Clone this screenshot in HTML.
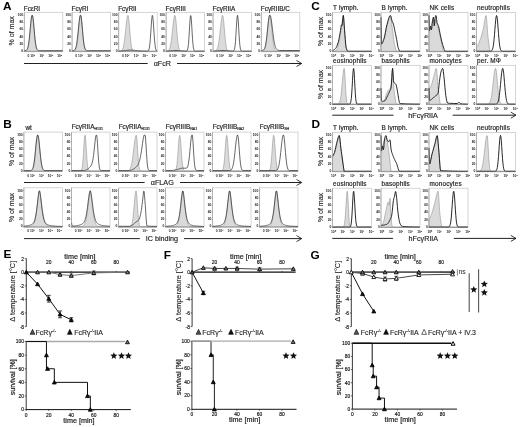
<!DOCTYPE html>
<html><head><meta charset="utf-8"><style>
html,body{margin:0;padding:0;background:#fff;}
svg{display:block;will-change:transform;}
text{font-family:"Liberation Sans", sans-serif;}
</style></head><body>
<svg width="520" height="427" viewBox="0 0 520 427" font-family='"Liberation Sans", sans-serif'>
<rect width="520" height="427" fill="#fff"/>
<text x="3.00" y="10.40" font-size="11.8" text-anchor="start" font-weight="bold" fill="#000" >A</text>
<rect x="24.30" y="12.30" width="38.50" height="39.30" fill="#fff" stroke="#c4c4c4" stroke-width="0.7"/>
<path d="M24.30,51.20 L24.3,51.2 25.1,51.2 25.5,51.1 25.9,51.1 26.3,51.0 26.7,50.7 27.1,50.4 27.5,49.7 27.9,48.7 28.3,47.3 28.7,45.2 29.1,42.5 29.5,39.1 29.9,35.0 30.3,30.6 30.7,26.0 31.1,21.8 31.5,18.3 31.9,16.1 32.3,15.3 32.7,16.2 33.1,18.7 33.5,22.5 33.9,27.0 34.3,31.8 34.7,36.4 35.1,40.5 35.5,43.8 35.9,46.3 36.3,48.2 36.7,49.4 37.1,50.2 37.5,50.6 37.9,50.9 38.3,51.1 38.7,51.1 39.1,51.2 62.7,51.2 L62.80,51.20 Z" fill="#dadada" stroke="#8c8c8c" stroke-width="0.55" stroke-linejoin="round"/>
<path d="M24.3,50.6 25.1,50.6 25.5,50.5 25.9,50.4 26.3,50.2 26.7,49.8 27.1,49.3 27.5,48.4 27.9,47.1 28.3,45.3 28.7,42.9 29.1,39.9 29.5,36.2 29.9,32.1 30.3,27.8 30.7,23.6 31.1,19.8 31.5,16.9 31.9,15.3 32.3,15.3 32.7,16.0 33.1,18.6 33.5,22.3 33.9,26.6 34.3,31.2 34.7,35.6 35.1,39.5 35.5,42.7 35.9,45.3 36.3,47.2 36.7,48.5 37.1,49.4 37.5,49.9 37.9,50.3 38.3,50.5 38.7,50.6 39.5,50.6 39.9,50.7 62.7,50.7" fill="none" stroke="#262626" stroke-width="0.7" stroke-linejoin="round"/>
<line x1="24.30" y1="12.30" x2="24.30" y2="51.60" stroke="#999" stroke-width="0.6" />
<line x1="23.80" y1="51.60" x2="62.80" y2="51.60" stroke="#888" stroke-width="0.6" />
<text x="23.10" y="51.90" font-size="3.3" text-anchor="end" font-weight="bold" fill="#222" >0</text>
<line x1="23.40" y1="51.20" x2="24.30" y2="51.20" stroke="#777" stroke-width="0.4" />
<text x="23.10" y="44.72" font-size="3.3" text-anchor="end" font-weight="bold" fill="#222" >20</text>
<line x1="23.40" y1="44.02" x2="24.30" y2="44.02" stroke="#777" stroke-width="0.4" />
<text x="23.10" y="37.54" font-size="3.3" text-anchor="end" font-weight="bold" fill="#222" >40</text>
<line x1="23.40" y1="36.84" x2="24.30" y2="36.84" stroke="#777" stroke-width="0.4" />
<text x="23.10" y="30.36" font-size="3.3" text-anchor="end" font-weight="bold" fill="#222" >60</text>
<line x1="23.40" y1="29.66" x2="24.30" y2="29.66" stroke="#777" stroke-width="0.4" />
<text x="23.10" y="23.18" font-size="3.3" text-anchor="end" font-weight="bold" fill="#222" >80</text>
<line x1="23.40" y1="22.48" x2="24.30" y2="22.48" stroke="#777" stroke-width="0.4" />
<text x="23.10" y="16.00" font-size="3.3" text-anchor="end" font-weight="bold" fill="#222" >100</text>
<line x1="23.40" y1="15.30" x2="24.30" y2="15.30" stroke="#777" stroke-width="0.4" />
<text x="31.30" y="56.80" font-size="3.3" text-anchor="middle" font-weight="bold" fill="#222" >0 10²</text>
<text x="41.80" y="56.80" font-size="3.3" text-anchor="middle" font-weight="bold" fill="#222" >10³</text>
<text x="50.80" y="56.80" font-size="3.3" text-anchor="middle" font-weight="bold" fill="#222" >10⁴</text>
<text x="59.80" y="56.80" font-size="3.3" text-anchor="middle" font-weight="bold" fill="#222" >10⁵</text>
<text x="23.80" y="10.70" font-size="6.4" text-anchor="start" font-weight="normal" fill="#222" stroke="#222" stroke-width="0.18" letter-spacing="0">FcεRI</text>
<rect x="72.10" y="12.30" width="38.50" height="39.30" fill="#fff" stroke="#c4c4c4" stroke-width="0.7"/>
<path d="M72.10,51.20 L72.1,51.2 73.3,51.2 73.7,51.1 74.1,51.0 74.5,50.9 74.9,50.6 75.3,50.1 75.7,49.4 76.1,48.3 76.5,46.8 76.9,44.7 77.3,42.0 77.7,38.7 78.1,34.8 78.5,30.5 78.9,26.2 79.3,22.1 79.7,18.8 80.1,16.4 80.5,15.3 80.9,15.8 81.3,17.9 81.7,21.4 82.1,25.8 82.5,30.6 82.9,35.3 83.3,39.5 83.7,43.1 84.1,45.8 84.5,47.8 84.9,49.1 85.3,50.0 85.7,50.6 86.1,50.9 86.5,51.0 86.9,51.1 87.3,51.2 110.5,51.2 L110.60,51.20 Z" fill="#dadada" stroke="#8c8c8c" stroke-width="0.55" stroke-linejoin="round"/>
<path d="M72.1,50.6 73.3,50.6 73.7,50.5 74.1,50.3 74.5,50.1 74.9,49.6 75.3,49.0 75.7,48.0 76.1,46.7 76.5,44.8 76.9,42.4 77.3,39.4 77.7,35.9 78.1,32.0 78.5,27.9 78.9,23.8 79.3,20.2 79.7,17.3 80.1,15.4 80.5,15.3 80.9,15.5 81.3,17.8 81.7,21.3 82.1,25.5 82.5,30.0 82.9,34.5 83.3,38.5 83.7,42.0 84.1,44.7 84.5,46.7 84.9,48.2 85.3,49.2 85.7,49.8 86.1,50.2 86.5,50.4 86.9,50.5 87.3,50.6 88.1,50.6 88.5,50.7 110.5,50.7" fill="none" stroke="#262626" stroke-width="0.7" stroke-linejoin="round"/>
<line x1="72.10" y1="12.30" x2="72.10" y2="51.60" stroke="#999" stroke-width="0.6" />
<line x1="71.60" y1="51.60" x2="110.60" y2="51.60" stroke="#888" stroke-width="0.6" />
<text x="70.90" y="51.90" font-size="3.3" text-anchor="end" font-weight="bold" fill="#222" >0</text>
<line x1="71.20" y1="51.20" x2="72.10" y2="51.20" stroke="#777" stroke-width="0.4" />
<text x="70.90" y="44.72" font-size="3.3" text-anchor="end" font-weight="bold" fill="#222" >20</text>
<line x1="71.20" y1="44.02" x2="72.10" y2="44.02" stroke="#777" stroke-width="0.4" />
<text x="70.90" y="37.54" font-size="3.3" text-anchor="end" font-weight="bold" fill="#222" >40</text>
<line x1="71.20" y1="36.84" x2="72.10" y2="36.84" stroke="#777" stroke-width="0.4" />
<text x="70.90" y="30.36" font-size="3.3" text-anchor="end" font-weight="bold" fill="#222" >60</text>
<line x1="71.20" y1="29.66" x2="72.10" y2="29.66" stroke="#777" stroke-width="0.4" />
<text x="70.90" y="23.18" font-size="3.3" text-anchor="end" font-weight="bold" fill="#222" >80</text>
<line x1="71.20" y1="22.48" x2="72.10" y2="22.48" stroke="#777" stroke-width="0.4" />
<text x="70.90" y="16.00" font-size="3.3" text-anchor="end" font-weight="bold" fill="#222" >100</text>
<line x1="71.20" y1="15.30" x2="72.10" y2="15.30" stroke="#777" stroke-width="0.4" />
<text x="79.10" y="56.80" font-size="3.3" text-anchor="middle" font-weight="bold" fill="#222" >0 10²</text>
<text x="89.60" y="56.80" font-size="3.3" text-anchor="middle" font-weight="bold" fill="#222" >10³</text>
<text x="98.60" y="56.80" font-size="3.3" text-anchor="middle" font-weight="bold" fill="#222" >10⁴</text>
<text x="107.60" y="56.80" font-size="3.3" text-anchor="middle" font-weight="bold" fill="#222" >10⁵</text>
<text x="71.60" y="10.70" font-size="6.4" text-anchor="start" font-weight="normal" fill="#222" stroke="#222" stroke-width="0.18" letter-spacing="0">FcγRI</text>
<rect x="118.70" y="12.30" width="38.50" height="39.30" fill="#fff" stroke="#c4c4c4" stroke-width="0.7"/>
<path d="M118.70,51.20 L118.7,51.2 119.9,51.2 120.3,51.1 120.7,51.0 121.1,50.9 121.5,50.7 121.9,50.3 122.3,49.8 122.7,49.0 123.1,47.9 123.5,46.3 123.9,44.3 124.3,41.8 124.7,38.7 125.1,35.2 125.5,31.4 125.9,27.5 126.3,23.6 126.7,20.3 127.1,17.6 127.5,15.9 127.9,15.3 128.3,16.2 128.7,18.7 129.1,22.5 129.5,27.0 129.9,31.8 130.3,36.4 130.7,40.5 131.1,43.8 131.5,46.3 131.9,48.2 132.3,49.4 132.7,50.2 133.1,50.6 133.5,50.9 133.9,51.1 134.3,51.1 134.7,51.2 157.1,51.2 L157.20,51.20 Z" fill="#dadada" stroke="#8c8c8c" stroke-width="0.55" stroke-linejoin="round"/>
<path d="M118.7,51.1 119.1,51.0 120.3,51.0 120.7,50.9 121.5,50.9 121.9,50.8 122.7,50.8 123.1,50.7 123.5,50.7 123.9,50.6 124.3,50.6 124.7,50.5 125.5,50.5 125.9,50.4 126.3,50.4 126.7,50.3 127.5,50.3 127.9,50.2 129.1,50.2 129.5,50.1 131.9,50.1 132.3,50.2 133.5,50.2 133.9,50.3 134.7,50.3 135.1,50.4 135.5,50.4 135.9,50.5 136.7,50.5 137.1,50.6 137.5,50.6 137.9,50.7 138.3,50.7 138.7,50.8 139.5,50.8 139.9,50.9 140.7,50.9 141.1,51.0 142.3,51.0 142.7,51.1 145.5,51.1 145.9,51.2 146.7,51.2 147.1,51.1 147.5,51.1 147.9,51.0 148.3,50.7 148.7,50.1 149.1,49.0 149.5,47.0 149.9,43.9 150.3,39.5 150.7,34.0 151.1,27.9 151.5,22.0 151.9,17.5 152.3,15.4 152.7,16.1 153.1,19.5 153.5,24.8 153.9,31.0 154.3,36.9 154.7,41.9 155.1,45.6 155.5,48.1 155.9,49.6 156.3,50.5 156.7,50.9 157.1,51.1" fill="none" stroke="#262626" stroke-width="0.7" stroke-linejoin="round"/>
<line x1="118.70" y1="12.30" x2="118.70" y2="51.60" stroke="#999" stroke-width="0.6" />
<line x1="118.20" y1="51.60" x2="157.20" y2="51.60" stroke="#888" stroke-width="0.6" />
<text x="117.50" y="51.90" font-size="3.3" text-anchor="end" font-weight="bold" fill="#222" >0</text>
<line x1="117.80" y1="51.20" x2="118.70" y2="51.20" stroke="#777" stroke-width="0.4" />
<text x="117.50" y="44.72" font-size="3.3" text-anchor="end" font-weight="bold" fill="#222" >20</text>
<line x1="117.80" y1="44.02" x2="118.70" y2="44.02" stroke="#777" stroke-width="0.4" />
<text x="117.50" y="37.54" font-size="3.3" text-anchor="end" font-weight="bold" fill="#222" >40</text>
<line x1="117.80" y1="36.84" x2="118.70" y2="36.84" stroke="#777" stroke-width="0.4" />
<text x="117.50" y="30.36" font-size="3.3" text-anchor="end" font-weight="bold" fill="#222" >60</text>
<line x1="117.80" y1="29.66" x2="118.70" y2="29.66" stroke="#777" stroke-width="0.4" />
<text x="117.50" y="23.18" font-size="3.3" text-anchor="end" font-weight="bold" fill="#222" >80</text>
<line x1="117.80" y1="22.48" x2="118.70" y2="22.48" stroke="#777" stroke-width="0.4" />
<text x="117.50" y="16.00" font-size="3.3" text-anchor="end" font-weight="bold" fill="#222" >100</text>
<line x1="117.80" y1="15.30" x2="118.70" y2="15.30" stroke="#777" stroke-width="0.4" />
<text x="125.70" y="56.80" font-size="3.3" text-anchor="middle" font-weight="bold" fill="#222" >0 10²</text>
<text x="136.20" y="56.80" font-size="3.3" text-anchor="middle" font-weight="bold" fill="#222" >10³</text>
<text x="145.20" y="56.80" font-size="3.3" text-anchor="middle" font-weight="bold" fill="#222" >10⁴</text>
<text x="154.20" y="56.80" font-size="3.3" text-anchor="middle" font-weight="bold" fill="#222" >10⁵</text>
<text x="118.20" y="10.70" font-size="6.4" text-anchor="start" font-weight="normal" fill="#222" stroke="#222" stroke-width="0.18" letter-spacing="0">FcγRII</text>
<rect x="166.10" y="12.30" width="38.50" height="39.30" fill="#fff" stroke="#c4c4c4" stroke-width="0.7"/>
<path d="M166.10,51.20 L166.1,51.2 166.5,51.2 166.9,51.1 167.3,51.0 167.7,50.9 168.1,50.7 168.5,50.5 168.9,50.0 169.3,49.3 169.7,48.4 170.1,47.1 170.5,45.4 170.9,43.3 171.3,40.7 171.7,37.6 172.1,34.1 172.5,30.4 172.9,26.6 173.3,23.0 173.7,19.9 174.1,17.4 174.5,15.8 174.9,15.3 175.3,16.2 175.7,18.7 176.1,22.5 176.5,27.0 176.9,31.8 177.3,36.4 177.7,40.5 178.1,43.8 178.5,46.3 178.9,48.2 179.3,49.4 179.7,50.2 180.1,50.6 180.5,50.9 180.9,51.1 181.3,51.1 181.7,51.2 204.5,51.2 L204.60,51.20 Z" fill="#dadada" stroke="#8c8c8c" stroke-width="0.55" stroke-linejoin="round"/>
<path d="M166.1,51.1 166.9,51.1 167.3,51.0 168.5,51.0 168.9,50.9 170.1,50.9 170.5,50.8 170.9,50.8 171.3,50.7 172.1,50.7 172.5,50.6 173.7,50.6 174.1,50.5 178.1,50.5 178.5,50.6 179.7,50.6 180.1,50.7 180.9,50.7 181.3,50.8 181.7,50.8 182.1,50.9 183.3,50.9 183.7,51.0 184.9,51.0 185.3,51.1 186.1,51.1 186.5,51.0 186.9,50.8 187.3,50.3 187.7,49.1 188.1,47.0 188.5,43.5 188.9,38.4 189.3,32.0 189.7,25.1 190.1,19.2 190.5,15.7 190.9,15.7 191.3,19.2 191.7,25.1 192.1,32.0 192.5,38.5 192.9,43.6 193.3,47.1 193.7,49.2 194.1,50.3 194.5,50.8 194.9,51.1 195.3,51.2 204.5,51.2" fill="none" stroke="#262626" stroke-width="0.7" stroke-linejoin="round"/>
<line x1="166.10" y1="12.30" x2="166.10" y2="51.60" stroke="#999" stroke-width="0.6" />
<line x1="165.60" y1="51.60" x2="204.60" y2="51.60" stroke="#888" stroke-width="0.6" />
<text x="164.90" y="51.90" font-size="3.3" text-anchor="end" font-weight="bold" fill="#222" >0</text>
<line x1="165.20" y1="51.20" x2="166.10" y2="51.20" stroke="#777" stroke-width="0.4" />
<text x="164.90" y="44.72" font-size="3.3" text-anchor="end" font-weight="bold" fill="#222" >20</text>
<line x1="165.20" y1="44.02" x2="166.10" y2="44.02" stroke="#777" stroke-width="0.4" />
<text x="164.90" y="37.54" font-size="3.3" text-anchor="end" font-weight="bold" fill="#222" >40</text>
<line x1="165.20" y1="36.84" x2="166.10" y2="36.84" stroke="#777" stroke-width="0.4" />
<text x="164.90" y="30.36" font-size="3.3" text-anchor="end" font-weight="bold" fill="#222" >60</text>
<line x1="165.20" y1="29.66" x2="166.10" y2="29.66" stroke="#777" stroke-width="0.4" />
<text x="164.90" y="23.18" font-size="3.3" text-anchor="end" font-weight="bold" fill="#222" >80</text>
<line x1="165.20" y1="22.48" x2="166.10" y2="22.48" stroke="#777" stroke-width="0.4" />
<text x="164.90" y="16.00" font-size="3.3" text-anchor="end" font-weight="bold" fill="#222" >100</text>
<line x1="165.20" y1="15.30" x2="166.10" y2="15.30" stroke="#777" stroke-width="0.4" />
<text x="173.10" y="56.80" font-size="3.3" text-anchor="middle" font-weight="bold" fill="#222" >0 10²</text>
<text x="183.60" y="56.80" font-size="3.3" text-anchor="middle" font-weight="bold" fill="#222" >10³</text>
<text x="192.60" y="56.80" font-size="3.3" text-anchor="middle" font-weight="bold" fill="#222" >10⁴</text>
<text x="201.60" y="56.80" font-size="3.3" text-anchor="middle" font-weight="bold" fill="#222" >10⁵</text>
<text x="165.60" y="10.70" font-size="6.4" text-anchor="start" font-weight="normal" fill="#222" stroke="#222" stroke-width="0.18" letter-spacing="0">FcγRIII</text>
<rect x="213.10" y="12.30" width="38.50" height="39.30" fill="#fff" stroke="#c4c4c4" stroke-width="0.7"/>
<path d="M213.10,51.20 L213.1,51.2 213.9,51.2 214.3,51.1 214.7,51.1 215.1,51.0 215.5,50.9 215.9,50.7 216.3,50.4 216.7,49.9 217.1,49.1 217.5,48.1 217.9,46.8 218.3,44.9 218.7,42.7 219.1,39.9 219.5,36.7 219.9,33.2 220.3,29.4 220.7,25.7 221.1,22.2 221.5,19.2 221.9,16.9 222.3,15.6 222.7,15.4 223.1,16.7 223.5,19.5 223.9,23.5 224.3,28.2 224.7,33.0 225.1,37.5 225.5,41.4 225.9,44.5 226.3,46.9 226.7,48.5 227.1,49.6 227.5,50.3 227.9,50.7 228.3,51.0 228.7,51.1 229.1,51.1 229.5,51.2 251.5,51.2 L251.60,51.20 Z" fill="#dadada" stroke="#8c8c8c" stroke-width="0.55" stroke-linejoin="round"/>
<path d="M213.1,51.1 213.9,51.1 214.3,51.0 215.5,51.0 215.9,50.9 217.1,50.9 217.5,50.8 217.9,50.8 218.3,50.7 219.1,50.7 219.5,50.6 220.7,50.6 221.1,50.5 225.1,50.5 225.5,50.6 226.7,50.6 227.1,50.7 227.9,50.7 228.3,50.8 228.7,50.8 229.1,50.9 230.3,50.9 230.7,51.0 231.9,51.0 232.3,51.1 232.7,51.1 233.1,51.0 233.5,50.9 233.9,50.6 234.3,49.8 234.7,48.2 235.1,45.5 235.5,41.2 235.9,35.3 236.3,28.5 236.7,21.9 237.1,17.1 237.5,15.3 237.9,17.1 238.3,21.9 238.7,28.5 239.1,35.4 239.5,41.2 239.9,45.5 240.3,48.3 240.7,49.8 241.1,50.6 241.5,51.0 241.9,51.1 242.3,51.2 251.5,51.2" fill="none" stroke="#262626" stroke-width="0.7" stroke-linejoin="round"/>
<line x1="213.10" y1="12.30" x2="213.10" y2="51.60" stroke="#999" stroke-width="0.6" />
<line x1="212.60" y1="51.60" x2="251.60" y2="51.60" stroke="#888" stroke-width="0.6" />
<text x="211.90" y="51.90" font-size="3.3" text-anchor="end" font-weight="bold" fill="#222" >0</text>
<line x1="212.20" y1="51.20" x2="213.10" y2="51.20" stroke="#777" stroke-width="0.4" />
<text x="211.90" y="44.72" font-size="3.3" text-anchor="end" font-weight="bold" fill="#222" >20</text>
<line x1="212.20" y1="44.02" x2="213.10" y2="44.02" stroke="#777" stroke-width="0.4" />
<text x="211.90" y="37.54" font-size="3.3" text-anchor="end" font-weight="bold" fill="#222" >40</text>
<line x1="212.20" y1="36.84" x2="213.10" y2="36.84" stroke="#777" stroke-width="0.4" />
<text x="211.90" y="30.36" font-size="3.3" text-anchor="end" font-weight="bold" fill="#222" >60</text>
<line x1="212.20" y1="29.66" x2="213.10" y2="29.66" stroke="#777" stroke-width="0.4" />
<text x="211.90" y="23.18" font-size="3.3" text-anchor="end" font-weight="bold" fill="#222" >80</text>
<line x1="212.20" y1="22.48" x2="213.10" y2="22.48" stroke="#777" stroke-width="0.4" />
<text x="211.90" y="16.00" font-size="3.3" text-anchor="end" font-weight="bold" fill="#222" >100</text>
<line x1="212.20" y1="15.30" x2="213.10" y2="15.30" stroke="#777" stroke-width="0.4" />
<text x="220.10" y="56.80" font-size="3.3" text-anchor="middle" font-weight="bold" fill="#222" >0 10²</text>
<text x="230.60" y="56.80" font-size="3.3" text-anchor="middle" font-weight="bold" fill="#222" >10³</text>
<text x="239.60" y="56.80" font-size="3.3" text-anchor="middle" font-weight="bold" fill="#222" >10⁴</text>
<text x="248.60" y="56.80" font-size="3.3" text-anchor="middle" font-weight="bold" fill="#222" >10⁵</text>
<text x="212.60" y="10.70" font-size="6.4" text-anchor="start" font-weight="normal" fill="#222" stroke="#222" stroke-width="0.18" letter-spacing="0">FcγRIIA</text>
<rect x="261.30" y="12.30" width="38.50" height="39.30" fill="#fff" stroke="#c4c4c4" stroke-width="0.7"/>
<path d="M261.30,51.20 L261.3,51.2 262.1,51.2 262.5,51.1 262.9,51.0 263.3,50.9 263.7,50.7 264.1,50.3 264.5,49.7 264.9,48.8 265.3,47.6 265.7,45.9 266.1,43.6 266.5,40.8 266.9,37.4 267.3,33.5 267.7,29.4 268.1,25.3 268.5,21.6 268.9,18.5 269.3,16.3 269.7,15.3 270.1,15.7 270.5,17.4 270.9,20.3 271.3,24.1 271.7,28.3 272.1,32.7 272.5,36.8 272.9,40.4 273.3,43.4 273.7,45.8 274.1,47.6 274.5,48.9 274.9,49.8 275.3,50.4 275.7,50.7 276.1,50.9 276.5,51.1 276.9,51.1 277.3,51.2 299.7,51.2 L299.80,51.20 Z" fill="#dadada" stroke="#8c8c8c" stroke-width="0.55" stroke-linejoin="round"/>
<path d="M261.3,50.5 261.7,50.4 262.1,50.4 262.5,50.3 262.9,50.2 263.3,50.0 263.7,49.7 264.1,49.2 264.5,48.5 264.9,47.5 265.3,46.1 265.7,44.2 266.1,41.8 266.5,38.8 266.9,35.4 267.3,31.7 267.7,27.7 268.1,23.8 268.5,20.3 268.9,17.5 269.3,15.5 269.7,15.3 270.1,15.3 270.5,15.9 270.9,17.7 271.3,20.1 271.7,23.0 272.1,26.2 272.5,29.5 272.9,32.8 273.3,36.0 273.7,38.8 274.1,41.3 274.5,43.5 274.9,45.2 275.3,46.7 275.7,47.7 276.1,48.6 276.5,49.2 276.9,49.6 277.3,49.9 277.7,50.1 278.1,50.3 278.5,50.3 278.9,50.4 279.3,50.4 279.7,50.5 299.7,50.5" fill="none" stroke="#262626" stroke-width="0.7" stroke-linejoin="round"/>
<line x1="261.30" y1="12.30" x2="261.30" y2="51.60" stroke="#999" stroke-width="0.6" />
<line x1="260.80" y1="51.60" x2="299.80" y2="51.60" stroke="#888" stroke-width="0.6" />
<text x="260.10" y="51.90" font-size="3.3" text-anchor="end" font-weight="bold" fill="#222" >0</text>
<line x1="260.40" y1="51.20" x2="261.30" y2="51.20" stroke="#777" stroke-width="0.4" />
<text x="260.10" y="44.72" font-size="3.3" text-anchor="end" font-weight="bold" fill="#222" >20</text>
<line x1="260.40" y1="44.02" x2="261.30" y2="44.02" stroke="#777" stroke-width="0.4" />
<text x="260.10" y="37.54" font-size="3.3" text-anchor="end" font-weight="bold" fill="#222" >40</text>
<line x1="260.40" y1="36.84" x2="261.30" y2="36.84" stroke="#777" stroke-width="0.4" />
<text x="260.10" y="30.36" font-size="3.3" text-anchor="end" font-weight="bold" fill="#222" >60</text>
<line x1="260.40" y1="29.66" x2="261.30" y2="29.66" stroke="#777" stroke-width="0.4" />
<text x="260.10" y="23.18" font-size="3.3" text-anchor="end" font-weight="bold" fill="#222" >80</text>
<line x1="260.40" y1="22.48" x2="261.30" y2="22.48" stroke="#777" stroke-width="0.4" />
<text x="260.10" y="16.00" font-size="3.3" text-anchor="end" font-weight="bold" fill="#222" >100</text>
<line x1="260.40" y1="15.30" x2="261.30" y2="15.30" stroke="#777" stroke-width="0.4" />
<text x="268.30" y="56.80" font-size="3.3" text-anchor="middle" font-weight="bold" fill="#222" >0 10²</text>
<text x="278.80" y="56.80" font-size="3.3" text-anchor="middle" font-weight="bold" fill="#222" >10³</text>
<text x="287.80" y="56.80" font-size="3.3" text-anchor="middle" font-weight="bold" fill="#222" >10⁴</text>
<text x="296.80" y="56.80" font-size="3.3" text-anchor="middle" font-weight="bold" fill="#222" >10⁵</text>
<text x="260.80" y="10.70" font-size="6.4" text-anchor="start" font-weight="normal" fill="#222" stroke="#222" stroke-width="0.18" letter-spacing="0">FcγRIIB/C</text>
<text x="0" y="0" font-size="7.0" text-anchor="middle" fill="#222" stroke="#222" stroke-width="0.12" transform="translate(13.80,30.80) rotate(-90)">% of max</text>
<line x1="24.00" y1="63.50" x2="147.70" y2="63.50" stroke="#222" stroke-width="1.0" />
<line x1="177.00" y1="63.50" x2="301.70" y2="63.50" stroke="#222" stroke-width="1.0" />
<path d="M296.50,60.50 L301.70,63.50 L296.50,66.50" fill="none" stroke="#222" stroke-width="0.9"/>
<text x="162.35" y="66.00" font-size="7.2" text-anchor="middle" font-weight="normal" fill="#222" stroke="#222" stroke-width="0.15">αFcR</text>
<text x="3.30" y="127.80" font-size="11.8" text-anchor="start" font-weight="bold" fill="#000" >B</text>
<rect x="23.90" y="132.10" width="38.50" height="39.30" fill="#fff" stroke="#c4c4c4" stroke-width="0.7"/>
<path d="M23.90,171.00 L23.9,171.0 30.3,171.0 30.7,170.9 31.1,170.8 31.5,170.7 31.9,170.5 32.3,170.1 32.7,169.4 33.1,168.5 33.5,167.0 33.9,165.1 34.3,162.5 34.7,159.3 35.1,155.6 35.5,151.4 35.9,147.1 36.3,142.9 36.7,139.3 37.1,136.7 37.5,135.3 37.9,135.3 38.3,136.7 38.7,139.3 39.1,142.9 39.5,147.1 39.9,151.4 40.3,155.6 40.7,159.3 41.1,162.5 41.5,165.1 41.9,167.0 42.3,168.5 42.7,169.4 43.1,170.1 43.5,170.5 43.9,170.7 44.3,170.8 44.7,170.9 45.1,171.0 62.3,171.0 L62.40,171.00 Z" fill="#dadada" stroke="#8c8c8c" stroke-width="0.55" stroke-linejoin="round"/>
<path d="M23.9,170.6 30.3,170.6 30.7,170.5 31.1,170.4 31.5,170.2 31.9,169.8 32.3,169.3 32.7,168.5 33.1,167.4 33.5,165.8 33.9,163.7 34.3,161.0 34.7,157.7 35.1,154.0 35.5,149.9 35.9,145.8 36.3,141.9 36.7,138.6 37.1,136.2 37.5,135.1 37.9,135.1 38.3,136.2 38.7,138.6 39.1,141.9 39.5,145.8 39.9,149.9 40.3,154.0 40.7,157.7 41.1,161.0 41.5,163.7 41.9,165.8 42.3,167.4 42.7,168.5 43.1,169.3 43.5,169.8 43.9,170.2 44.3,170.4 44.7,170.5 45.1,170.6 62.3,170.6" fill="none" stroke="#262626" stroke-width="0.7" stroke-linejoin="round"/>
<line x1="23.90" y1="132.10" x2="23.90" y2="171.40" stroke="#999" stroke-width="0.6" />
<line x1="23.40" y1="171.40" x2="62.40" y2="171.40" stroke="#888" stroke-width="0.6" />
<text x="22.70" y="171.70" font-size="3.3" text-anchor="end" font-weight="bold" fill="#222" >0</text>
<line x1="23.00" y1="171.00" x2="23.90" y2="171.00" stroke="#777" stroke-width="0.4" />
<text x="22.70" y="164.52" font-size="3.3" text-anchor="end" font-weight="bold" fill="#222" >20</text>
<line x1="23.00" y1="163.82" x2="23.90" y2="163.82" stroke="#777" stroke-width="0.4" />
<text x="22.70" y="157.34" font-size="3.3" text-anchor="end" font-weight="bold" fill="#222" >40</text>
<line x1="23.00" y1="156.64" x2="23.90" y2="156.64" stroke="#777" stroke-width="0.4" />
<text x="22.70" y="150.16" font-size="3.3" text-anchor="end" font-weight="bold" fill="#222" >60</text>
<line x1="23.00" y1="149.46" x2="23.90" y2="149.46" stroke="#777" stroke-width="0.4" />
<text x="22.70" y="142.98" font-size="3.3" text-anchor="end" font-weight="bold" fill="#222" >80</text>
<line x1="23.00" y1="142.28" x2="23.90" y2="142.28" stroke="#777" stroke-width="0.4" />
<text x="22.70" y="135.80" font-size="3.3" text-anchor="end" font-weight="bold" fill="#222" >100</text>
<line x1="23.00" y1="135.10" x2="23.90" y2="135.10" stroke="#777" stroke-width="0.4" />
<text x="30.90" y="176.60" font-size="3.3" text-anchor="middle" font-weight="bold" fill="#222" >0 10²</text>
<text x="41.40" y="176.60" font-size="3.3" text-anchor="middle" font-weight="bold" fill="#222" >10³</text>
<text x="50.40" y="176.60" font-size="3.3" text-anchor="middle" font-weight="bold" fill="#222" >10⁴</text>
<text x="59.40" y="176.60" font-size="3.3" text-anchor="middle" font-weight="bold" fill="#222" >10⁵</text>
<text x="25.40" y="129.50" font-size="6.4" text-anchor="start" font-weight="normal" fill="#222" stroke="#222" stroke-width="0.18" letter-spacing="0">wt</text>
<rect x="71.50" y="132.10" width="38.50" height="39.30" fill="#fff" stroke="#c4c4c4" stroke-width="0.7"/>
<path d="M71.50,171.00 L71.5,171.0 79.9,171.0 80.3,170.9 80.7,170.8 81.1,170.6 81.5,170.0 81.9,168.9 82.3,166.8 82.7,163.5 83.1,158.7 83.5,152.6 83.9,145.9 84.3,139.9 84.7,136.0 85.1,135.2 85.5,137.7 85.9,142.8 86.3,149.2 86.7,155.7 87.1,161.3 87.5,165.4 87.9,168.0 88.3,169.6 88.7,170.4 89.1,170.8 89.5,170.9 89.9,171.0 109.9,171.0 L110.00,171.00 Z" fill="#dadada" stroke="#8c8c8c" stroke-width="0.55" stroke-linejoin="round"/>
<path d="M71.5,170.6 83.5,170.6 83.9,170.5 84.3,170.5 84.7,170.4 85.1,170.3 85.5,170.2 85.9,170.1 86.3,169.9 86.7,169.7 87.1,169.5 87.5,169.2 87.9,168.9 88.3,168.6 88.7,168.3 89.1,167.9 89.5,167.5 89.9,167.1 90.3,166.7 90.7,166.2 91.1,165.6 91.5,164.8 91.9,163.8 92.3,162.4 92.7,160.7 93.1,158.5 93.5,155.7 93.9,152.5 94.3,148.8 94.7,145.0 95.1,141.2 95.5,138.0 95.9,135.7 96.3,135.1 96.7,135.1 97.1,138.2 97.5,143.8 97.9,150.5 98.3,156.8 98.7,162.1 99.1,165.8 99.5,168.1 99.9,169.5 100.3,170.1 100.7,170.4 101.1,170.6 109.9,170.6" fill="none" stroke="#262626" stroke-width="0.7" stroke-linejoin="round"/>
<line x1="71.50" y1="132.10" x2="71.50" y2="171.40" stroke="#999" stroke-width="0.6" />
<line x1="71.00" y1="171.40" x2="110.00" y2="171.40" stroke="#888" stroke-width="0.6" />
<text x="70.30" y="171.70" font-size="3.3" text-anchor="end" font-weight="bold" fill="#222" >0</text>
<line x1="70.60" y1="171.00" x2="71.50" y2="171.00" stroke="#777" stroke-width="0.4" />
<text x="70.30" y="164.52" font-size="3.3" text-anchor="end" font-weight="bold" fill="#222" >20</text>
<line x1="70.60" y1="163.82" x2="71.50" y2="163.82" stroke="#777" stroke-width="0.4" />
<text x="70.30" y="157.34" font-size="3.3" text-anchor="end" font-weight="bold" fill="#222" >40</text>
<line x1="70.60" y1="156.64" x2="71.50" y2="156.64" stroke="#777" stroke-width="0.4" />
<text x="70.30" y="150.16" font-size="3.3" text-anchor="end" font-weight="bold" fill="#222" >60</text>
<line x1="70.60" y1="149.46" x2="71.50" y2="149.46" stroke="#777" stroke-width="0.4" />
<text x="70.30" y="142.98" font-size="3.3" text-anchor="end" font-weight="bold" fill="#222" >80</text>
<line x1="70.60" y1="142.28" x2="71.50" y2="142.28" stroke="#777" stroke-width="0.4" />
<text x="70.30" y="135.80" font-size="3.3" text-anchor="end" font-weight="bold" fill="#222" >100</text>
<line x1="70.60" y1="135.10" x2="71.50" y2="135.10" stroke="#777" stroke-width="0.4" />
<text x="78.50" y="176.60" font-size="3.3" text-anchor="middle" font-weight="bold" fill="#222" >0 10²</text>
<text x="89.00" y="176.60" font-size="3.3" text-anchor="middle" font-weight="bold" fill="#222" >10³</text>
<text x="98.00" y="176.60" font-size="3.3" text-anchor="middle" font-weight="bold" fill="#222" >10⁴</text>
<text x="107.00" y="176.60" font-size="3.3" text-anchor="middle" font-weight="bold" fill="#222" >10⁵</text>
<text x="71.70" y="128.70" font-size="6.4" text-anchor="start" font-weight="normal" fill="#222" stroke="#222" stroke-width="0.18" letter-spacing="0">FcγRIIA<tspan font-size="3.6" dy="1.2">H131</tspan></text>
<rect x="118.50" y="132.10" width="38.50" height="39.30" fill="#fff" stroke="#c4c4c4" stroke-width="0.7"/>
<path d="M118.50,171.00 L118.5,171.0 126.5,171.0 126.9,170.9 127.3,170.9 127.7,170.8 128.1,170.8 128.5,170.6 128.9,170.4 129.3,170.0 129.7,169.6 130.1,168.9 130.5,168.0 130.9,166.8 131.3,165.4 131.7,163.5 132.1,161.3 132.5,158.7 132.9,155.7 133.3,152.6 133.7,149.2 134.1,145.9 134.5,142.8 134.9,139.9 135.3,137.7 135.7,136.0 136.1,135.2 136.5,135.5 136.9,138.7 137.3,144.3 137.7,150.9 138.1,157.2 138.5,162.4 138.9,166.1 139.3,168.5 139.7,169.8 140.1,170.5 140.5,170.8 140.9,170.9 141.3,171.0 156.9,171.0 L157.00,171.00 Z" fill="#dadada" stroke="#8c8c8c" stroke-width="0.55" stroke-linejoin="round"/>
<path d="M118.5,170.6 128.5,170.6 128.9,170.5 129.7,170.5 130.1,170.4 130.5,170.3 130.9,170.2 131.3,170.1 131.7,170.0 132.1,169.8 132.5,169.6 132.9,169.4 133.3,169.2 133.7,168.9 134.1,168.7 134.5,168.4 134.9,168.0 135.3,167.7 135.7,167.4 136.1,167.0 136.5,166.6 136.9,166.2 137.3,165.7 137.7,165.1 138.1,164.5 138.5,163.7 138.9,162.7 139.3,161.6 139.7,160.2 140.1,158.5 140.5,156.5 140.9,154.3 141.3,151.8 141.7,149.1 142.1,146.3 142.5,143.5 142.9,140.9 143.3,138.5 143.7,136.5 144.1,135.1 144.9,135.1 145.3,135.7 145.7,140.4 146.1,146.8 146.5,153.5 146.9,159.4 147.3,163.9 147.7,167.0 148.1,168.8 148.5,169.8 148.9,170.3 149.3,170.5 149.7,170.6 156.9,170.6" fill="none" stroke="#262626" stroke-width="0.7" stroke-linejoin="round"/>
<line x1="118.50" y1="132.10" x2="118.50" y2="171.40" stroke="#999" stroke-width="0.6" />
<line x1="118.00" y1="171.40" x2="157.00" y2="171.40" stroke="#888" stroke-width="0.6" />
<text x="117.30" y="171.70" font-size="3.3" text-anchor="end" font-weight="bold" fill="#222" >0</text>
<line x1="117.60" y1="171.00" x2="118.50" y2="171.00" stroke="#777" stroke-width="0.4" />
<text x="117.30" y="164.52" font-size="3.3" text-anchor="end" font-weight="bold" fill="#222" >20</text>
<line x1="117.60" y1="163.82" x2="118.50" y2="163.82" stroke="#777" stroke-width="0.4" />
<text x="117.30" y="157.34" font-size="3.3" text-anchor="end" font-weight="bold" fill="#222" >40</text>
<line x1="117.60" y1="156.64" x2="118.50" y2="156.64" stroke="#777" stroke-width="0.4" />
<text x="117.30" y="150.16" font-size="3.3" text-anchor="end" font-weight="bold" fill="#222" >60</text>
<line x1="117.60" y1="149.46" x2="118.50" y2="149.46" stroke="#777" stroke-width="0.4" />
<text x="117.30" y="142.98" font-size="3.3" text-anchor="end" font-weight="bold" fill="#222" >80</text>
<line x1="117.60" y1="142.28" x2="118.50" y2="142.28" stroke="#777" stroke-width="0.4" />
<text x="117.30" y="135.80" font-size="3.3" text-anchor="end" font-weight="bold" fill="#222" >100</text>
<line x1="117.60" y1="135.10" x2="118.50" y2="135.10" stroke="#777" stroke-width="0.4" />
<text x="125.50" y="176.60" font-size="3.3" text-anchor="middle" font-weight="bold" fill="#222" >0 10²</text>
<text x="136.00" y="176.60" font-size="3.3" text-anchor="middle" font-weight="bold" fill="#222" >10³</text>
<text x="145.00" y="176.60" font-size="3.3" text-anchor="middle" font-weight="bold" fill="#222" >10⁴</text>
<text x="154.00" y="176.60" font-size="3.3" text-anchor="middle" font-weight="bold" fill="#222" >10⁵</text>
<text x="118.70" y="128.70" font-size="6.4" text-anchor="start" font-weight="normal" fill="#222" stroke="#222" stroke-width="0.18" letter-spacing="0">FcγRIIA<tspan font-size="3.6" dy="1.2">R131</tspan></text>
<rect x="165.50" y="132.10" width="38.50" height="39.30" fill="#fff" stroke="#c4c4c4" stroke-width="0.7"/>
<path d="M165.50,171.00 L165.5,171.0 173.9,171.0 174.3,170.9 174.7,170.9 175.1,170.7 175.5,170.3 175.9,169.5 176.3,168.2 176.7,166.1 177.1,163.0 177.5,158.8 177.9,153.5 178.3,147.8 178.7,142.3 179.1,137.9 179.5,135.4 179.9,135.4 180.3,137.9 180.7,142.3 181.1,147.8 181.5,153.5 181.9,158.8 182.3,163.0 182.7,166.1 183.1,168.2 183.5,169.5 183.9,170.3 184.3,170.7 184.7,170.9 185.1,170.9 185.5,171.0 203.9,171.0 L204.00,171.00 Z" fill="#dadada" stroke="#8c8c8c" stroke-width="0.55" stroke-linejoin="round"/>
<path d="M165.5,170.6 170.3,170.6 170.7,170.5 171.9,170.5 172.3,170.4 173.1,170.4 173.5,170.3 173.9,170.2 174.3,170.2 174.7,170.1 175.1,170.0 175.5,169.9 175.9,169.8 176.3,169.7 176.7,169.6 177.1,169.5 177.5,169.4 177.9,169.3 178.3,169.2 178.7,169.1 179.1,168.9 179.5,168.8 179.9,168.7 180.3,168.6 180.7,168.5 181.1,168.4 181.5,168.3 181.9,168.3 182.3,168.2 182.7,168.2 183.1,168.1 183.9,168.1 184.3,168.2 186.3,168.2 186.7,168.0 187.1,167.6 187.5,166.9 187.9,165.8 188.3,164.2 188.7,161.9 189.1,159.0 189.5,155.3 189.9,151.2 190.3,146.7 190.7,142.4 191.1,138.6 191.5,135.8 191.9,135.1 192.3,135.1 192.7,137.9 193.1,143.5 193.5,150.2 193.9,156.6 194.3,161.8 194.7,165.6 195.1,168.0 195.5,169.3 195.9,170.0 196.3,170.4 196.7,170.5 197.1,170.6 203.9,170.6" fill="none" stroke="#262626" stroke-width="0.7" stroke-linejoin="round"/>
<line x1="165.50" y1="132.10" x2="165.50" y2="171.40" stroke="#999" stroke-width="0.6" />
<line x1="165.00" y1="171.40" x2="204.00" y2="171.40" stroke="#888" stroke-width="0.6" />
<text x="164.30" y="171.70" font-size="3.3" text-anchor="end" font-weight="bold" fill="#222" >0</text>
<line x1="164.60" y1="171.00" x2="165.50" y2="171.00" stroke="#777" stroke-width="0.4" />
<text x="164.30" y="164.52" font-size="3.3" text-anchor="end" font-weight="bold" fill="#222" >20</text>
<line x1="164.60" y1="163.82" x2="165.50" y2="163.82" stroke="#777" stroke-width="0.4" />
<text x="164.30" y="157.34" font-size="3.3" text-anchor="end" font-weight="bold" fill="#222" >40</text>
<line x1="164.60" y1="156.64" x2="165.50" y2="156.64" stroke="#777" stroke-width="0.4" />
<text x="164.30" y="150.16" font-size="3.3" text-anchor="end" font-weight="bold" fill="#222" >60</text>
<line x1="164.60" y1="149.46" x2="165.50" y2="149.46" stroke="#777" stroke-width="0.4" />
<text x="164.30" y="142.98" font-size="3.3" text-anchor="end" font-weight="bold" fill="#222" >80</text>
<line x1="164.60" y1="142.28" x2="165.50" y2="142.28" stroke="#777" stroke-width="0.4" />
<text x="164.30" y="135.80" font-size="3.3" text-anchor="end" font-weight="bold" fill="#222" >100</text>
<line x1="164.60" y1="135.10" x2="165.50" y2="135.10" stroke="#777" stroke-width="0.4" />
<text x="172.50" y="176.60" font-size="3.3" text-anchor="middle" font-weight="bold" fill="#222" >0 10²</text>
<text x="183.00" y="176.60" font-size="3.3" text-anchor="middle" font-weight="bold" fill="#222" >10³</text>
<text x="192.00" y="176.60" font-size="3.3" text-anchor="middle" font-weight="bold" fill="#222" >10⁴</text>
<text x="201.00" y="176.60" font-size="3.3" text-anchor="middle" font-weight="bold" fill="#222" >10⁵</text>
<text x="165.70" y="128.70" font-size="6.4" text-anchor="start" font-weight="normal" fill="#222" stroke="#222" stroke-width="0.18" letter-spacing="0">FcγRIIIB<tspan font-size="3.6" dy="1.2">NA1</tspan></text>
<rect x="212.50" y="132.10" width="38.50" height="39.30" fill="#fff" stroke="#c4c4c4" stroke-width="0.7"/>
<path d="M212.50,171.00 L212.5,171.0 220.9,171.0 221.3,170.9 221.7,170.9 222.1,170.7 222.5,170.3 222.9,169.5 223.3,168.2 223.7,166.1 224.1,163.0 224.5,158.8 224.9,153.5 225.3,147.8 225.7,142.3 226.1,137.9 226.5,135.4 226.9,135.4 227.3,137.9 227.7,142.3 228.1,147.8 228.5,153.5 228.9,158.8 229.3,163.0 229.7,166.1 230.1,168.2 230.5,169.5 230.9,170.3 231.3,170.7 231.7,170.9 232.1,170.9 232.5,171.0 250.9,171.0 L251.00,171.00 Z" fill="#dadada" stroke="#8c8c8c" stroke-width="0.55" stroke-linejoin="round"/>
<path d="M212.5,170.6 229.3,170.6 229.7,170.5 230.1,170.5 230.5,170.3 230.9,170.1 231.3,169.8 231.7,169.3 232.1,168.6 232.5,167.6 232.9,166.2 233.3,164.4 233.7,162.1 234.1,159.4 234.5,156.2 234.9,152.6 235.3,148.9 235.7,145.1 236.1,141.6 236.5,138.6 236.9,136.4 237.3,135.1 237.7,135.1 238.1,136.5 238.5,140.0 238.9,144.8 239.3,150.2 239.7,155.5 240.1,160.0 240.5,163.7 240.9,166.4 241.3,168.2 241.7,169.3 242.1,170.0 242.5,170.3 242.9,170.5 243.3,170.6 250.9,170.6" fill="none" stroke="#262626" stroke-width="0.7" stroke-linejoin="round"/>
<line x1="212.50" y1="132.10" x2="212.50" y2="171.40" stroke="#999" stroke-width="0.6" />
<line x1="212.00" y1="171.40" x2="251.00" y2="171.40" stroke="#888" stroke-width="0.6" />
<text x="211.30" y="171.70" font-size="3.3" text-anchor="end" font-weight="bold" fill="#222" >0</text>
<line x1="211.60" y1="171.00" x2="212.50" y2="171.00" stroke="#777" stroke-width="0.4" />
<text x="211.30" y="164.52" font-size="3.3" text-anchor="end" font-weight="bold" fill="#222" >20</text>
<line x1="211.60" y1="163.82" x2="212.50" y2="163.82" stroke="#777" stroke-width="0.4" />
<text x="211.30" y="157.34" font-size="3.3" text-anchor="end" font-weight="bold" fill="#222" >40</text>
<line x1="211.60" y1="156.64" x2="212.50" y2="156.64" stroke="#777" stroke-width="0.4" />
<text x="211.30" y="150.16" font-size="3.3" text-anchor="end" font-weight="bold" fill="#222" >60</text>
<line x1="211.60" y1="149.46" x2="212.50" y2="149.46" stroke="#777" stroke-width="0.4" />
<text x="211.30" y="142.98" font-size="3.3" text-anchor="end" font-weight="bold" fill="#222" >80</text>
<line x1="211.60" y1="142.28" x2="212.50" y2="142.28" stroke="#777" stroke-width="0.4" />
<text x="211.30" y="135.80" font-size="3.3" text-anchor="end" font-weight="bold" fill="#222" >100</text>
<line x1="211.60" y1="135.10" x2="212.50" y2="135.10" stroke="#777" stroke-width="0.4" />
<text x="219.50" y="176.60" font-size="3.3" text-anchor="middle" font-weight="bold" fill="#222" >0 10²</text>
<text x="230.00" y="176.60" font-size="3.3" text-anchor="middle" font-weight="bold" fill="#222" >10³</text>
<text x="239.00" y="176.60" font-size="3.3" text-anchor="middle" font-weight="bold" fill="#222" >10⁴</text>
<text x="248.00" y="176.60" font-size="3.3" text-anchor="middle" font-weight="bold" fill="#222" >10⁵</text>
<text x="212.70" y="128.70" font-size="6.4" text-anchor="start" font-weight="normal" fill="#222" stroke="#222" stroke-width="0.18" letter-spacing="0">FcγRIIIB<tspan font-size="3.6" dy="1.2">NA2</tspan></text>
<rect x="259.50" y="132.10" width="38.50" height="39.30" fill="#fff" stroke="#c4c4c4" stroke-width="0.7"/>
<path d="M259.50,171.00 L259.5,171.0 267.9,171.0 268.3,170.9 268.7,170.9 269.1,170.7 269.5,170.3 269.9,169.5 270.3,168.2 270.7,166.1 271.1,163.0 271.5,158.8 271.9,153.5 272.3,147.8 272.7,142.3 273.1,137.9 273.5,135.4 273.9,135.4 274.3,137.9 274.7,142.3 275.1,147.8 275.5,153.5 275.9,158.8 276.3,163.0 276.7,166.1 277.1,168.2 277.5,169.5 277.9,170.3 278.3,170.7 278.7,170.9 279.1,170.9 279.5,171.0 297.9,171.0 L298.00,171.00 Z" fill="#dadada" stroke="#8c8c8c" stroke-width="0.55" stroke-linejoin="round"/>
<path d="M259.5,170.6 275.1,170.6 275.5,170.5 275.9,170.5 276.3,170.3 276.7,170.1 277.1,169.8 277.5,169.3 277.9,168.6 278.3,167.6 278.7,166.2 279.1,164.4 279.5,162.1 279.9,159.4 280.3,156.2 280.7,152.6 281.1,148.9 281.5,145.1 281.9,141.6 282.3,138.6 282.7,136.4 283.1,135.1 283.5,135.1 283.9,136.1 284.3,139.0 284.7,143.0 285.1,147.7 285.5,152.5 285.9,157.0 286.3,160.8 286.7,164.0 287.1,166.3 287.5,168.0 287.9,169.1 288.3,169.8 288.7,170.2 289.1,170.4 289.5,170.5 289.9,170.6 297.9,170.6" fill="none" stroke="#262626" stroke-width="0.7" stroke-linejoin="round"/>
<line x1="259.50" y1="132.10" x2="259.50" y2="171.40" stroke="#999" stroke-width="0.6" />
<line x1="259.00" y1="171.40" x2="298.00" y2="171.40" stroke="#888" stroke-width="0.6" />
<text x="258.30" y="171.70" font-size="3.3" text-anchor="end" font-weight="bold" fill="#222" >0</text>
<line x1="258.60" y1="171.00" x2="259.50" y2="171.00" stroke="#777" stroke-width="0.4" />
<text x="258.30" y="164.52" font-size="3.3" text-anchor="end" font-weight="bold" fill="#222" >20</text>
<line x1="258.60" y1="163.82" x2="259.50" y2="163.82" stroke="#777" stroke-width="0.4" />
<text x="258.30" y="157.34" font-size="3.3" text-anchor="end" font-weight="bold" fill="#222" >40</text>
<line x1="258.60" y1="156.64" x2="259.50" y2="156.64" stroke="#777" stroke-width="0.4" />
<text x="258.30" y="150.16" font-size="3.3" text-anchor="end" font-weight="bold" fill="#222" >60</text>
<line x1="258.60" y1="149.46" x2="259.50" y2="149.46" stroke="#777" stroke-width="0.4" />
<text x="258.30" y="142.98" font-size="3.3" text-anchor="end" font-weight="bold" fill="#222" >80</text>
<line x1="258.60" y1="142.28" x2="259.50" y2="142.28" stroke="#777" stroke-width="0.4" />
<text x="258.30" y="135.80" font-size="3.3" text-anchor="end" font-weight="bold" fill="#222" >100</text>
<line x1="258.60" y1="135.10" x2="259.50" y2="135.10" stroke="#777" stroke-width="0.4" />
<text x="266.50" y="176.60" font-size="3.3" text-anchor="middle" font-weight="bold" fill="#222" >0 10²</text>
<text x="277.00" y="176.60" font-size="3.3" text-anchor="middle" font-weight="bold" fill="#222" >10³</text>
<text x="286.00" y="176.60" font-size="3.3" text-anchor="middle" font-weight="bold" fill="#222" >10⁴</text>
<text x="295.00" y="176.60" font-size="3.3" text-anchor="middle" font-weight="bold" fill="#222" >10⁵</text>
<text x="259.70" y="128.70" font-size="6.4" text-anchor="start" font-weight="normal" fill="#222" stroke="#222" stroke-width="0.18" letter-spacing="0">FcγRIIIB<tspan font-size="3.6" dy="1.2">SH</tspan></text>
<rect x="23.90" y="187.80" width="38.50" height="39.30" fill="#fff" stroke="#c4c4c4" stroke-width="0.7"/>
<path d="M23.90,226.70 L23.9,226.7 28.7,226.7 29.1,226.6 29.9,226.6 30.3,226.5 30.7,226.4 31.1,226.3 31.5,226.1 31.9,225.9 32.3,225.6 32.7,225.2 33.1,224.7 33.5,224.1 33.9,223.2 34.3,222.2 34.7,220.9 35.1,219.3 35.5,217.4 35.9,215.1 36.3,212.6 36.7,209.7 37.1,206.6 37.5,203.3 37.9,199.9 38.3,196.6 38.7,193.8 39.1,191.6 39.5,190.9 39.9,192.3 40.3,194.6 40.7,197.3 41.1,200.3 41.5,203.4 41.9,206.4 42.3,209.3 42.7,212.0 43.1,214.4 43.5,216.5 43.9,218.4 44.3,220.0 44.7,221.3 45.1,222.5 45.5,223.4 45.9,224.1 46.3,224.7 46.7,225.2 47.1,225.6 47.5,225.9 47.9,226.1 48.3,226.2 48.7,226.4 49.1,226.5 49.5,226.5 49.9,226.6 50.7,226.6 51.1,226.7 62.3,226.7 L62.40,226.70 Z" fill="#dadada" stroke="#8c8c8c" stroke-width="0.55" stroke-linejoin="round"/>
<path d="M23.9,226.1 24.3,226.1 24.7,226.0 25.5,226.0 25.9,225.9 26.3,225.9 26.7,225.8 27.1,225.8 27.5,225.7 27.9,225.7 28.3,225.6 28.7,225.5 29.1,225.4 29.5,225.3 29.9,225.2 30.3,225.1 30.7,224.9 31.1,224.8 31.5,224.6 31.9,224.3 32.3,224.1 32.7,223.7 33.1,223.3 33.5,222.8 33.9,222.1 34.3,221.3 34.7,220.2 35.1,218.8 35.5,217.1 35.9,215.0 36.3,212.5 36.7,209.6 37.1,206.3 37.5,202.8 37.9,199.2 38.3,195.8 38.7,193.0 39.1,191.2 39.5,190.8 39.9,191.9 40.3,194.3 40.7,197.4 41.1,201.0 41.5,204.6 41.9,208.0 42.3,211.1 42.7,213.8 43.1,216.1 43.5,218.0 43.9,219.5 44.3,220.8 44.7,221.7 45.1,222.5 45.5,223.1 45.9,223.5 46.3,223.9 46.7,224.2 47.1,224.5 47.5,224.7 47.9,224.8 48.3,225.0 48.7,225.1 49.1,225.3 49.5,225.4 49.9,225.5 50.3,225.5 50.7,225.6 51.1,225.7 51.5,225.7 51.9,225.8 52.3,225.9 52.7,225.9 53.1,226.0 53.9,226.0 54.3,226.1 55.1,226.1 55.5,226.2 57.1,226.2 57.5,226.3 59.5,226.3 59.9,226.4 62.3,226.4" fill="none" stroke="#262626" stroke-width="0.7" stroke-linejoin="round"/>
<line x1="23.90" y1="187.80" x2="23.90" y2="227.10" stroke="#999" stroke-width="0.6" />
<line x1="23.40" y1="227.10" x2="62.40" y2="227.10" stroke="#888" stroke-width="0.6" />
<text x="22.70" y="227.40" font-size="3.3" text-anchor="end" font-weight="bold" fill="#222" >0</text>
<line x1="23.00" y1="226.70" x2="23.90" y2="226.70" stroke="#777" stroke-width="0.4" />
<text x="22.70" y="220.22" font-size="3.3" text-anchor="end" font-weight="bold" fill="#222" >20</text>
<line x1="23.00" y1="219.52" x2="23.90" y2="219.52" stroke="#777" stroke-width="0.4" />
<text x="22.70" y="213.04" font-size="3.3" text-anchor="end" font-weight="bold" fill="#222" >40</text>
<line x1="23.00" y1="212.34" x2="23.90" y2="212.34" stroke="#777" stroke-width="0.4" />
<text x="22.70" y="205.86" font-size="3.3" text-anchor="end" font-weight="bold" fill="#222" >60</text>
<line x1="23.00" y1="205.16" x2="23.90" y2="205.16" stroke="#777" stroke-width="0.4" />
<text x="22.70" y="198.68" font-size="3.3" text-anchor="end" font-weight="bold" fill="#222" >80</text>
<line x1="23.00" y1="197.98" x2="23.90" y2="197.98" stroke="#777" stroke-width="0.4" />
<text x="22.70" y="191.50" font-size="3.3" text-anchor="end" font-weight="bold" fill="#222" >100</text>
<line x1="23.00" y1="190.80" x2="23.90" y2="190.80" stroke="#777" stroke-width="0.4" />
<text x="30.90" y="232.30" font-size="3.3" text-anchor="middle" font-weight="bold" fill="#222" >0 10²</text>
<text x="41.40" y="232.30" font-size="3.3" text-anchor="middle" font-weight="bold" fill="#222" >10³</text>
<text x="50.40" y="232.30" font-size="3.3" text-anchor="middle" font-weight="bold" fill="#222" >10⁴</text>
<text x="59.40" y="232.30" font-size="3.3" text-anchor="middle" font-weight="bold" fill="#222" >10⁵</text>
<rect x="71.50" y="187.80" width="38.50" height="39.30" fill="#fff" stroke="#c4c4c4" stroke-width="0.7"/>
<path d="M71.50,226.70 L71.5,226.7 79.9,226.7 80.3,226.6 81.1,226.6 81.5,226.5 81.9,226.4 82.3,226.3 82.7,226.1 83.1,225.9 83.5,225.6 83.9,225.1 84.3,224.6 84.7,223.8 85.1,222.9 85.5,221.7 85.9,220.2 86.3,218.3 86.7,216.1 87.1,213.6 87.5,210.7 87.9,207.5 88.3,204.1 88.7,200.5 89.1,197.1 89.5,194.0 89.9,191.7 90.3,190.9 90.7,192.7 91.1,195.5 91.5,198.8 91.9,202.3 92.3,205.8 92.7,209.1 93.1,212.2 93.5,214.9 93.9,217.3 94.3,219.3 94.7,220.9 95.1,222.3 95.5,223.4 95.9,224.2 96.3,224.9 96.7,225.4 97.1,225.7 97.5,226.0 97.9,226.2 98.3,226.4 98.7,226.5 99.1,226.5 99.5,226.6 99.9,226.6 100.3,226.7 109.9,226.7 L110.00,226.70 Z" fill="#dadada" stroke="#8c8c8c" stroke-width="0.55" stroke-linejoin="round"/>
<path d="M71.5,222.6 71.9,224.8 72.3,225.6 72.7,225.9 73.1,226.0 74.3,226.0 74.7,225.9 75.1,225.9 75.5,225.8 75.9,225.8 76.3,225.7 76.7,225.7 77.1,225.6 77.5,225.6 77.9,225.5 78.3,225.4 78.7,225.3 79.1,225.2 79.5,225.1 79.9,225.0 80.3,224.9 80.7,224.7 81.1,224.6 81.5,224.4 81.9,224.2 82.3,223.9 82.7,223.6 83.1,223.3 83.5,222.8 83.9,222.3 84.3,221.6 84.7,220.7 85.1,219.7 85.5,218.4 85.9,216.8 86.3,214.9 86.7,212.6 87.1,210.0 87.5,207.2 87.9,204.1 88.3,200.8 88.7,197.7 89.1,194.8 89.5,192.5 89.9,191.1 90.3,190.8 90.7,191.7 91.1,193.6 91.5,196.2 91.9,199.2 92.3,202.5 92.7,205.6 93.1,208.6 93.5,211.4 93.9,213.8 94.3,215.9 94.7,217.6 95.1,219.0 95.5,220.2 95.9,221.2 96.3,221.9 96.7,222.6 97.1,223.0 97.5,223.4 97.9,223.8 98.3,224.1 98.7,224.3 99.1,224.5 99.5,224.7 99.9,224.8 100.3,225.0 100.7,225.1 101.1,225.2 101.5,225.3 101.9,225.4 102.3,225.5 102.7,225.5 103.1,225.6 103.5,225.7 103.9,225.7 104.3,225.8 104.7,225.8 105.1,225.9 105.9,225.9 106.3,226.0 107.1,226.0 107.5,226.1 108.7,226.1 109.1,226.2 109.9,226.2" fill="none" stroke="#262626" stroke-width="0.7" stroke-linejoin="round"/>
<line x1="71.50" y1="187.80" x2="71.50" y2="227.10" stroke="#999" stroke-width="0.6" />
<line x1="71.00" y1="227.10" x2="110.00" y2="227.10" stroke="#888" stroke-width="0.6" />
<text x="70.30" y="227.40" font-size="3.3" text-anchor="end" font-weight="bold" fill="#222" >0</text>
<line x1="70.60" y1="226.70" x2="71.50" y2="226.70" stroke="#777" stroke-width="0.4" />
<text x="70.30" y="220.22" font-size="3.3" text-anchor="end" font-weight="bold" fill="#222" >20</text>
<line x1="70.60" y1="219.52" x2="71.50" y2="219.52" stroke="#777" stroke-width="0.4" />
<text x="70.30" y="213.04" font-size="3.3" text-anchor="end" font-weight="bold" fill="#222" >40</text>
<line x1="70.60" y1="212.34" x2="71.50" y2="212.34" stroke="#777" stroke-width="0.4" />
<text x="70.30" y="205.86" font-size="3.3" text-anchor="end" font-weight="bold" fill="#222" >60</text>
<line x1="70.60" y1="205.16" x2="71.50" y2="205.16" stroke="#777" stroke-width="0.4" />
<text x="70.30" y="198.68" font-size="3.3" text-anchor="end" font-weight="bold" fill="#222" >80</text>
<line x1="70.60" y1="197.98" x2="71.50" y2="197.98" stroke="#777" stroke-width="0.4" />
<text x="70.30" y="191.50" font-size="3.3" text-anchor="end" font-weight="bold" fill="#222" >100</text>
<line x1="70.60" y1="190.80" x2="71.50" y2="190.80" stroke="#777" stroke-width="0.4" />
<text x="78.50" y="232.30" font-size="3.3" text-anchor="middle" font-weight="bold" fill="#222" >0 10²</text>
<text x="89.00" y="232.30" font-size="3.3" text-anchor="middle" font-weight="bold" fill="#222" >10³</text>
<text x="98.00" y="232.30" font-size="3.3" text-anchor="middle" font-weight="bold" fill="#222" >10⁴</text>
<text x="107.00" y="232.30" font-size="3.3" text-anchor="middle" font-weight="bold" fill="#222" >10⁵</text>
<rect x="118.50" y="187.80" width="38.50" height="39.30" fill="#fff" stroke="#c4c4c4" stroke-width="0.7"/>
<path d="M118.50,226.70 L118.5,226.7 129.3,226.7 129.7,226.6 130.1,226.5 130.5,226.4 130.9,226.1 131.3,225.5 131.7,224.6 132.1,223.3 132.5,221.3 132.9,218.6 133.3,215.0 133.7,210.8 134.1,206.1 134.5,201.3 134.9,196.9 135.3,193.4 135.7,191.3 136.1,190.9 136.5,193.0 136.9,197.5 137.3,203.4 137.7,209.5 138.1,215.0 138.5,219.4 138.9,222.5 139.3,224.5 139.7,225.6 140.1,226.2 140.5,226.5 140.9,226.6 141.3,226.7 156.9,226.7 L157.00,226.70 Z" fill="#dadada" stroke="#8c8c8c" stroke-width="0.55" stroke-linejoin="round"/>
<path d="M118.5,226.3 129.3,226.3 129.7,226.2 130.1,226.0 130.5,225.9 130.9,225.7 131.3,225.5 131.7,225.3 132.1,225.1 132.5,224.9 132.9,224.7 133.3,224.4 133.7,224.0 134.1,223.7 134.5,223.3 134.9,222.9 135.3,222.6 135.7,222.2 136.1,221.9 136.5,221.7 136.9,221.4 137.3,221.2 137.7,220.9 138.1,220.6 138.5,220.1 138.9,219.7 139.3,219.0 139.7,217.9 140.1,216.4 140.5,214.7 140.9,212.8 141.3,210.6 141.7,207.8 142.1,204.7 142.5,201.6 142.9,197.9 143.3,193.9 143.7,191.2 144.1,191.4 144.5,195.3 144.9,200.4 145.3,205.4 145.7,211.6 146.1,218.0 146.5,223.1 146.9,225.8 147.3,226.0 147.7,226.0 148.1,226.1 148.9,226.1 149.3,226.2 150.9,226.2 151.3,226.3 156.9,226.3" fill="none" stroke="#262626" stroke-width="0.7" stroke-linejoin="round"/>
<line x1="118.50" y1="187.80" x2="118.50" y2="227.10" stroke="#999" stroke-width="0.6" />
<line x1="118.00" y1="227.10" x2="157.00" y2="227.10" stroke="#888" stroke-width="0.6" />
<text x="117.30" y="227.40" font-size="3.3" text-anchor="end" font-weight="bold" fill="#222" >0</text>
<line x1="117.60" y1="226.70" x2="118.50" y2="226.70" stroke="#777" stroke-width="0.4" />
<text x="117.30" y="220.22" font-size="3.3" text-anchor="end" font-weight="bold" fill="#222" >20</text>
<line x1="117.60" y1="219.52" x2="118.50" y2="219.52" stroke="#777" stroke-width="0.4" />
<text x="117.30" y="213.04" font-size="3.3" text-anchor="end" font-weight="bold" fill="#222" >40</text>
<line x1="117.60" y1="212.34" x2="118.50" y2="212.34" stroke="#777" stroke-width="0.4" />
<text x="117.30" y="205.86" font-size="3.3" text-anchor="end" font-weight="bold" fill="#222" >60</text>
<line x1="117.60" y1="205.16" x2="118.50" y2="205.16" stroke="#777" stroke-width="0.4" />
<text x="117.30" y="198.68" font-size="3.3" text-anchor="end" font-weight="bold" fill="#222" >80</text>
<line x1="117.60" y1="197.98" x2="118.50" y2="197.98" stroke="#777" stroke-width="0.4" />
<text x="117.30" y="191.50" font-size="3.3" text-anchor="end" font-weight="bold" fill="#222" >100</text>
<line x1="117.60" y1="190.80" x2="118.50" y2="190.80" stroke="#777" stroke-width="0.4" />
<text x="125.50" y="232.30" font-size="3.3" text-anchor="middle" font-weight="bold" fill="#222" >0 10²</text>
<text x="136.00" y="232.30" font-size="3.3" text-anchor="middle" font-weight="bold" fill="#222" >10³</text>
<text x="145.00" y="232.30" font-size="3.3" text-anchor="middle" font-weight="bold" fill="#222" >10⁴</text>
<text x="154.00" y="232.30" font-size="3.3" text-anchor="middle" font-weight="bold" fill="#222" >10⁵</text>
<rect x="165.50" y="187.80" width="38.50" height="39.30" fill="#fff" stroke="#c4c4c4" stroke-width="0.7"/>
<path d="M165.50,226.70 L165.5,226.7 173.1,226.7 173.5,226.6 174.3,226.6 174.7,226.5 175.1,226.4 175.5,226.2 175.9,226.0 176.3,225.7 176.7,225.3 177.1,224.7 177.5,224.0 177.9,223.0 178.3,221.8 178.7,220.2 179.1,218.3 179.5,216.0 179.9,213.3 180.3,210.2 180.7,206.7 181.1,203.1 181.5,199.4 181.9,195.8 182.3,192.9 182.7,191.0 183.1,191.7 183.5,194.3 183.9,197.6 184.3,201.2 184.7,204.9 185.1,208.5 185.5,211.8 185.9,214.7 186.3,217.2 186.7,219.3 187.1,221.0 187.5,222.4 187.9,223.5 188.3,224.4 188.7,225.0 189.1,225.5 189.5,225.9 189.9,226.1 190.3,226.3 190.7,226.4 191.1,226.5 191.5,226.6 192.3,226.6 192.7,226.7 203.9,226.7 L204.00,226.70 Z" fill="#dadada" stroke="#8c8c8c" stroke-width="0.55" stroke-linejoin="round"/>
<path d="M165.5,226.3 166.3,226.3 166.7,226.2 167.9,226.2 168.3,226.1 169.1,226.1 169.5,226.0 169.9,226.0 170.3,225.9 170.7,225.9 171.1,225.8 171.5,225.8 171.9,225.7 172.3,225.6 172.7,225.5 173.1,225.5 173.5,225.4 173.9,225.2 174.3,225.1 174.7,224.9 175.1,224.8 175.5,224.5 175.9,224.3 176.3,223.9 176.7,223.5 177.1,223.0 177.5,222.2 177.9,221.3 178.3,220.2 178.7,218.7 179.1,216.8 179.5,214.6 179.9,211.9 180.3,208.8 180.7,205.4 181.1,201.7 181.5,198.0 181.9,194.6 182.3,192.1 182.7,190.9 183.1,191.3 183.5,193.2 183.9,196.2 184.3,199.8 184.7,203.6 185.1,207.2 185.5,210.4 185.9,213.3 186.3,215.8 186.7,217.8 187.1,219.5 187.5,220.8 187.9,221.8 188.3,222.6 188.7,223.2 189.1,223.7 189.5,224.1 189.9,224.4 190.3,224.7 190.7,224.9 191.1,225.0 191.5,225.2 191.9,225.3 192.3,225.4 192.7,225.5 193.1,225.6 193.5,225.7 193.9,225.7 194.3,225.8 194.7,225.9 195.1,225.9 195.5,226.0 196.3,226.0 196.7,226.1 197.5,226.1 197.9,226.2 199.1,226.2 199.5,226.3 201.1,226.3 201.5,226.4 203.9,226.4" fill="none" stroke="#262626" stroke-width="0.7" stroke-linejoin="round"/>
<line x1="165.50" y1="187.80" x2="165.50" y2="227.10" stroke="#999" stroke-width="0.6" />
<line x1="165.00" y1="227.10" x2="204.00" y2="227.10" stroke="#888" stroke-width="0.6" />
<text x="164.30" y="227.40" font-size="3.3" text-anchor="end" font-weight="bold" fill="#222" >0</text>
<line x1="164.60" y1="226.70" x2="165.50" y2="226.70" stroke="#777" stroke-width="0.4" />
<text x="164.30" y="220.22" font-size="3.3" text-anchor="end" font-weight="bold" fill="#222" >20</text>
<line x1="164.60" y1="219.52" x2="165.50" y2="219.52" stroke="#777" stroke-width="0.4" />
<text x="164.30" y="213.04" font-size="3.3" text-anchor="end" font-weight="bold" fill="#222" >40</text>
<line x1="164.60" y1="212.34" x2="165.50" y2="212.34" stroke="#777" stroke-width="0.4" />
<text x="164.30" y="205.86" font-size="3.3" text-anchor="end" font-weight="bold" fill="#222" >60</text>
<line x1="164.60" y1="205.16" x2="165.50" y2="205.16" stroke="#777" stroke-width="0.4" />
<text x="164.30" y="198.68" font-size="3.3" text-anchor="end" font-weight="bold" fill="#222" >80</text>
<line x1="164.60" y1="197.98" x2="165.50" y2="197.98" stroke="#777" stroke-width="0.4" />
<text x="164.30" y="191.50" font-size="3.3" text-anchor="end" font-weight="bold" fill="#222" >100</text>
<line x1="164.60" y1="190.80" x2="165.50" y2="190.80" stroke="#777" stroke-width="0.4" />
<text x="172.50" y="232.30" font-size="3.3" text-anchor="middle" font-weight="bold" fill="#222" >0 10²</text>
<text x="183.00" y="232.30" font-size="3.3" text-anchor="middle" font-weight="bold" fill="#222" >10³</text>
<text x="192.00" y="232.30" font-size="3.3" text-anchor="middle" font-weight="bold" fill="#222" >10⁴</text>
<text x="201.00" y="232.30" font-size="3.3" text-anchor="middle" font-weight="bold" fill="#222" >10⁵</text>
<rect x="212.50" y="187.80" width="38.50" height="39.30" fill="#fff" stroke="#c4c4c4" stroke-width="0.7"/>
<path d="M212.50,226.70 L212.5,226.7 219.7,226.7 220.1,226.6 220.9,226.6 221.3,226.5 221.7,226.4 222.1,226.3 222.5,226.1 222.9,225.9 223.3,225.5 223.7,225.0 224.1,224.4 224.5,223.5 224.9,222.4 225.3,221.0 225.7,219.3 226.1,217.2 226.5,214.7 226.9,211.8 227.3,208.5 227.7,204.9 228.1,201.2 228.5,197.6 228.9,194.3 229.3,191.7 229.7,191.0 230.1,192.9 230.5,195.8 230.9,199.4 231.3,203.1 231.7,206.7 232.1,210.2 232.5,213.3 232.9,216.0 233.3,218.3 233.7,220.2 234.1,221.8 234.5,223.0 234.9,224.0 235.3,224.7 235.7,225.3 236.1,225.7 236.5,226.0 236.9,226.2 237.3,226.4 237.7,226.5 238.1,226.6 238.9,226.6 239.3,226.7 250.9,226.7 L251.00,226.70 Z" fill="#dadada" stroke="#8c8c8c" stroke-width="0.55" stroke-linejoin="round"/>
<path d="M212.5,226.3 212.9,226.3 213.3,226.2 214.5,226.2 214.9,226.1 215.7,226.1 216.1,226.0 216.9,226.0 217.3,225.9 217.7,225.9 218.1,225.8 218.5,225.7 218.9,225.7 219.3,225.6 219.7,225.5 220.1,225.4 220.5,225.3 220.9,225.2 221.3,225.0 221.7,224.9 222.1,224.7 222.5,224.4 222.9,224.1 223.3,223.7 223.7,223.2 224.1,222.6 224.5,221.8 224.9,220.8 225.3,219.5 225.7,217.8 226.1,215.8 226.5,213.3 226.9,210.4 227.3,207.2 227.7,203.6 228.1,199.8 228.5,196.2 228.9,193.2 229.3,191.3 229.7,190.9 230.1,192.1 230.5,194.6 230.9,198.0 231.3,201.7 231.7,205.4 232.1,208.8 232.5,211.9 232.9,214.6 233.3,216.8 233.7,218.7 234.1,220.2 234.5,221.3 234.9,222.2 235.3,223.0 235.7,223.5 236.1,223.9 236.5,224.3 236.9,224.5 237.3,224.8 237.7,224.9 238.1,225.1 238.5,225.2 238.9,225.4 239.3,225.5 239.7,225.5 240.1,225.6 240.5,225.7 240.9,225.8 241.3,225.8 241.7,225.9 242.1,225.9 242.5,226.0 242.9,226.0 243.3,226.1 244.1,226.1 244.5,226.2 245.7,226.2 246.1,226.3 248.1,226.3 248.5,226.4 250.9,226.4" fill="none" stroke="#262626" stroke-width="0.7" stroke-linejoin="round"/>
<line x1="212.50" y1="187.80" x2="212.50" y2="227.10" stroke="#999" stroke-width="0.6" />
<line x1="212.00" y1="227.10" x2="251.00" y2="227.10" stroke="#888" stroke-width="0.6" />
<text x="211.30" y="227.40" font-size="3.3" text-anchor="end" font-weight="bold" fill="#222" >0</text>
<line x1="211.60" y1="226.70" x2="212.50" y2="226.70" stroke="#777" stroke-width="0.4" />
<text x="211.30" y="220.22" font-size="3.3" text-anchor="end" font-weight="bold" fill="#222" >20</text>
<line x1="211.60" y1="219.52" x2="212.50" y2="219.52" stroke="#777" stroke-width="0.4" />
<text x="211.30" y="213.04" font-size="3.3" text-anchor="end" font-weight="bold" fill="#222" >40</text>
<line x1="211.60" y1="212.34" x2="212.50" y2="212.34" stroke="#777" stroke-width="0.4" />
<text x="211.30" y="205.86" font-size="3.3" text-anchor="end" font-weight="bold" fill="#222" >60</text>
<line x1="211.60" y1="205.16" x2="212.50" y2="205.16" stroke="#777" stroke-width="0.4" />
<text x="211.30" y="198.68" font-size="3.3" text-anchor="end" font-weight="bold" fill="#222" >80</text>
<line x1="211.60" y1="197.98" x2="212.50" y2="197.98" stroke="#777" stroke-width="0.4" />
<text x="211.30" y="191.50" font-size="3.3" text-anchor="end" font-weight="bold" fill="#222" >100</text>
<line x1="211.60" y1="190.80" x2="212.50" y2="190.80" stroke="#777" stroke-width="0.4" />
<text x="219.50" y="232.30" font-size="3.3" text-anchor="middle" font-weight="bold" fill="#222" >0 10²</text>
<text x="230.00" y="232.30" font-size="3.3" text-anchor="middle" font-weight="bold" fill="#222" >10³</text>
<text x="239.00" y="232.30" font-size="3.3" text-anchor="middle" font-weight="bold" fill="#222" >10⁴</text>
<text x="248.00" y="232.30" font-size="3.3" text-anchor="middle" font-weight="bold" fill="#222" >10⁵</text>
<rect x="259.50" y="187.80" width="38.50" height="39.30" fill="#fff" stroke="#c4c4c4" stroke-width="0.7"/>
<path d="M259.50,226.70 L259.5,226.7 266.7,226.7 267.1,226.6 267.9,226.6 268.3,226.5 268.7,226.4 269.1,226.2 269.5,226.0 269.9,225.7 270.3,225.3 270.7,224.7 271.1,224.0 271.5,223.0 271.9,221.8 272.3,220.2 272.7,218.3 273.1,216.0 273.5,213.3 273.9,210.2 274.3,206.7 274.7,203.1 275.1,199.4 275.5,195.8 275.9,192.9 276.3,191.0 276.7,191.7 277.1,194.3 277.5,197.6 277.9,201.2 278.3,204.9 278.7,208.5 279.1,211.8 279.5,214.7 279.9,217.2 280.3,219.3 280.7,221.0 281.1,222.4 281.5,223.5 281.9,224.4 282.3,225.0 282.7,225.5 283.1,225.9 283.5,226.1 283.9,226.3 284.3,226.4 284.7,226.5 285.1,226.6 285.9,226.6 286.3,226.7 297.9,226.7 L298.00,226.70 Z" fill="#dadada" stroke="#8c8c8c" stroke-width="0.55" stroke-linejoin="round"/>
<path d="M259.5,226.3 259.9,226.3 260.3,226.2 261.5,226.2 261.9,226.1 262.7,226.1 263.1,226.0 263.5,226.0 263.9,225.9 264.3,225.9 264.7,225.8 265.1,225.8 265.5,225.7 265.9,225.6 266.3,225.5 266.7,225.5 267.1,225.4 267.5,225.2 267.9,225.1 268.3,224.9 268.7,224.8 269.1,224.5 269.5,224.3 269.9,223.9 270.3,223.5 270.7,223.0 271.1,222.2 271.5,221.3 271.9,220.2 272.3,218.7 272.7,216.8 273.1,214.6 273.5,211.9 273.9,208.8 274.3,205.4 274.7,201.7 275.1,198.0 275.5,194.6 275.9,192.1 276.3,190.9 276.7,191.3 277.1,193.2 277.5,196.2 277.9,199.8 278.3,203.6 278.7,207.2 279.1,210.4 279.5,213.3 279.9,215.8 280.3,217.8 280.7,219.5 281.1,220.8 281.5,221.8 281.9,222.6 282.3,223.2 282.7,223.7 283.1,224.1 283.5,224.4 283.9,224.7 284.3,224.9 284.7,225.0 285.1,225.2 285.5,225.3 285.9,225.4 286.3,225.5 286.7,225.6 287.1,225.7 287.5,225.7 287.9,225.8 288.3,225.9 288.7,225.9 289.1,226.0 289.9,226.0 290.3,226.1 291.1,226.1 291.5,226.2 292.7,226.2 293.1,226.3 294.7,226.3 295.1,226.4 297.9,226.4" fill="none" stroke="#262626" stroke-width="0.7" stroke-linejoin="round"/>
<line x1="259.50" y1="187.80" x2="259.50" y2="227.10" stroke="#999" stroke-width="0.6" />
<line x1="259.00" y1="227.10" x2="298.00" y2="227.10" stroke="#888" stroke-width="0.6" />
<text x="258.30" y="227.40" font-size="3.3" text-anchor="end" font-weight="bold" fill="#222" >0</text>
<line x1="258.60" y1="226.70" x2="259.50" y2="226.70" stroke="#777" stroke-width="0.4" />
<text x="258.30" y="220.22" font-size="3.3" text-anchor="end" font-weight="bold" fill="#222" >20</text>
<line x1="258.60" y1="219.52" x2="259.50" y2="219.52" stroke="#777" stroke-width="0.4" />
<text x="258.30" y="213.04" font-size="3.3" text-anchor="end" font-weight="bold" fill="#222" >40</text>
<line x1="258.60" y1="212.34" x2="259.50" y2="212.34" stroke="#777" stroke-width="0.4" />
<text x="258.30" y="205.86" font-size="3.3" text-anchor="end" font-weight="bold" fill="#222" >60</text>
<line x1="258.60" y1="205.16" x2="259.50" y2="205.16" stroke="#777" stroke-width="0.4" />
<text x="258.30" y="198.68" font-size="3.3" text-anchor="end" font-weight="bold" fill="#222" >80</text>
<line x1="258.60" y1="197.98" x2="259.50" y2="197.98" stroke="#777" stroke-width="0.4" />
<text x="258.30" y="191.50" font-size="3.3" text-anchor="end" font-weight="bold" fill="#222" >100</text>
<line x1="258.60" y1="190.80" x2="259.50" y2="190.80" stroke="#777" stroke-width="0.4" />
<text x="266.50" y="232.30" font-size="3.3" text-anchor="middle" font-weight="bold" fill="#222" >0 10²</text>
<text x="277.00" y="232.30" font-size="3.3" text-anchor="middle" font-weight="bold" fill="#222" >10³</text>
<text x="286.00" y="232.30" font-size="3.3" text-anchor="middle" font-weight="bold" fill="#222" >10⁴</text>
<text x="295.00" y="232.30" font-size="3.3" text-anchor="middle" font-weight="bold" fill="#222" >10⁵</text>
<text x="0" y="0" font-size="7.0" text-anchor="middle" fill="#222" stroke="#222" stroke-width="0.12" transform="translate(13.80,151.50) rotate(-90)">% of max</text>
<text x="0" y="0" font-size="7.0" text-anchor="middle" fill="#222" stroke="#222" stroke-width="0.12" transform="translate(13.80,207.50) rotate(-90)">% of max</text>
<line x1="24.00" y1="182.50" x2="144.60" y2="182.50" stroke="#222" stroke-width="1.0" />
<line x1="180.00" y1="182.50" x2="301.70" y2="182.50" stroke="#222" stroke-width="1.0" />
<path d="M296.50,179.50 L301.70,182.50 L296.50,185.50" fill="none" stroke="#222" stroke-width="0.9"/>
<text x="162.30" y="185.00" font-size="7.2" text-anchor="middle" font-weight="normal" fill="#222" stroke="#222" stroke-width="0.15">αFLAG</text>
<line x1="24.00" y1="238.60" x2="139.80" y2="238.60" stroke="#222" stroke-width="1.0" />
<line x1="184.00" y1="238.60" x2="301.70" y2="238.60" stroke="#222" stroke-width="1.0" />
<path d="M296.50,235.60 L301.70,238.60 L296.50,241.60" fill="none" stroke="#222" stroke-width="0.9"/>
<text x="161.90" y="241.10" font-size="7.2" text-anchor="middle" font-weight="normal" fill="#222" stroke="#222" stroke-width="0.15">IC binding</text>
<text x="311.20" y="10.20" font-size="11.8" text-anchor="start" font-weight="bold" fill="#000" >C</text>
<rect x="332.50" y="12.40" width="39.00" height="39.30" fill="#fff" stroke="#c4c4c4" stroke-width="0.7"/>
<path d="M332.50,51.30 L332.5,51.3 333.3,51.3 333.7,51.2 334.1,51.2 334.5,51.1 334.9,51.1 335.3,51.0 335.7,50.9 336.1,50.5 336.5,49.8 336.9,49.1 337.3,48.2 337.7,47.2 338.1,45.9 338.5,44.4 338.9,42.7 339.3,40.8 339.7,38.8 340.1,36.4 340.5,33.7 340.9,30.9 341.3,28.2 341.7,25.5 342.1,22.2 342.5,18.9 342.9,16.4 343.3,15.4 343.7,17.9 344.1,23.4 344.5,29.0 344.9,34.3 345.3,40.0 345.7,44.8 346.1,47.5 346.5,49.1 346.9,50.5 347.3,51.2 347.7,51.3 371.3,51.3 L371.50,51.30 Z" fill="#dadada" stroke="#8c8c8c" stroke-width="0.55" stroke-linejoin="round"/>
<path d="M332.5,50.6 332.9,50.5 333.3,50.3 333.7,50.1 334.1,49.8 334.5,49.5 334.9,49.2 335.3,48.7 335.7,48.2 336.1,47.7 336.5,47.0 336.9,46.2 337.3,45.2 337.7,44.0 338.1,42.7 338.5,41.2 338.9,39.5 339.3,37.4 339.7,35.2 340.1,32.8 340.5,30.5 340.9,27.7 341.3,25.2 341.7,24.9 342.1,25.5 342.5,22.8 342.9,18.0 343.3,15.4 343.7,18.1 344.1,24.0 344.5,29.8 344.9,34.7 345.3,39.8 345.7,44.3 346.1,47.3 346.5,48.7 346.9,49.8 347.3,50.7 347.7,51.2 348.1,51.3 371.3,51.3" fill="none" stroke="#111" stroke-width="0.9" stroke-linejoin="round"/>
<line x1="332.50" y1="12.40" x2="332.50" y2="51.70" stroke="#999" stroke-width="0.6" />
<line x1="332.00" y1="51.70" x2="371.50" y2="51.70" stroke="#888" stroke-width="0.6" />
<text x="331.30" y="52.00" font-size="3.3" text-anchor="end" font-weight="bold" fill="#222" >0</text>
<line x1="331.60" y1="51.30" x2="332.50" y2="51.30" stroke="#777" stroke-width="0.4" />
<text x="331.30" y="44.82" font-size="3.3" text-anchor="end" font-weight="bold" fill="#222" >20</text>
<line x1="331.60" y1="44.12" x2="332.50" y2="44.12" stroke="#777" stroke-width="0.4" />
<text x="331.30" y="37.64" font-size="3.3" text-anchor="end" font-weight="bold" fill="#222" >40</text>
<line x1="331.60" y1="36.94" x2="332.50" y2="36.94" stroke="#777" stroke-width="0.4" />
<text x="331.30" y="30.46" font-size="3.3" text-anchor="end" font-weight="bold" fill="#222" >60</text>
<line x1="331.60" y1="29.76" x2="332.50" y2="29.76" stroke="#777" stroke-width="0.4" />
<text x="331.30" y="23.28" font-size="3.3" text-anchor="end" font-weight="bold" fill="#222" >80</text>
<line x1="331.60" y1="22.58" x2="332.50" y2="22.58" stroke="#777" stroke-width="0.4" />
<text x="331.30" y="16.10" font-size="3.3" text-anchor="end" font-weight="bold" fill="#222" >100</text>
<line x1="331.60" y1="15.40" x2="332.50" y2="15.40" stroke="#777" stroke-width="0.4" />
<text x="333.30" y="56.90" font-size="3.3" text-anchor="middle" font-weight="bold" fill="#222" >10⁰</text>
<text x="342.80" y="56.90" font-size="3.3" text-anchor="middle" font-weight="bold" fill="#222" >10¹</text>
<text x="352.30" y="56.90" font-size="3.3" text-anchor="middle" font-weight="bold" fill="#222" >10²</text>
<text x="361.80" y="56.90" font-size="3.3" text-anchor="middle" font-weight="bold" fill="#222" >10³</text>
<text x="371.30" y="56.90" font-size="3.3" text-anchor="middle" font-weight="bold" fill="#222" >10⁴</text>
<text x="333.10" y="10.20" font-size="6.4" text-anchor="start" font-weight="normal" fill="#222" stroke="#222" stroke-width="0.18" letter-spacing="0.15">T lymph.</text>
<rect x="381.00" y="12.40" width="39.00" height="39.30" fill="#fff" stroke="#c4c4c4" stroke-width="0.7"/>
<path d="M381.00,51.30 L381.0,44.1 381.4,43.8 381.8,43.3 382.2,42.7 382.6,42.0 383.0,41.1 383.4,40.2 383.8,39.2 384.2,38.2 384.6,36.8 385.0,35.1 385.4,33.3 385.8,31.4 386.2,29.5 386.6,27.7 387.0,26.2 387.4,24.7 387.8,23.1 388.2,21.5 388.6,20.0 389.0,18.6 389.4,17.5 389.8,16.6 390.2,16.2 390.6,16.3 391.0,18.0 391.4,20.8 391.8,24.1 392.2,27.5 392.6,30.5 393.0,33.5 393.4,36.8 393.8,39.9 394.2,42.6 394.6,44.5 395.0,46.2 395.4,47.8 395.8,49.2 396.2,50.3 396.6,51.0 397.0,51.3 419.8,51.3 L420.00,51.30 Z" fill="#dadada" stroke="#8c8c8c" stroke-width="0.55" stroke-linejoin="round"/>
<path d="M381.0,17.2 381.4,44.1 381.8,43.9 382.2,43.4 382.6,42.6 383.0,41.6 383.4,40.5 383.8,39.3 384.2,38.1 384.6,36.5 385.0,34.5 385.4,32.3 385.8,30.1 386.2,27.9 386.6,26.0 387.0,24.4 387.4,23.0 387.8,21.5 388.2,20.1 388.6,18.7 389.0,17.6 389.4,16.6 389.8,15.8 390.2,15.5 390.6,15.6 391.0,16.7 391.4,18.4 391.8,20.1 392.2,21.3 392.6,22.2 393.0,23.0 393.4,24.1 393.8,25.5 394.2,27.4 394.6,29.5 395.0,31.6 395.4,33.4 395.8,35.3 396.2,37.2 396.6,39.3 397.0,41.7 397.4,44.1 397.8,46.2 398.2,47.6 398.6,48.9 399.0,49.9 399.4,50.8 399.8,51.2 400.2,51.3 419.8,51.3" fill="none" stroke="#111" stroke-width="0.9" stroke-linejoin="round"/>
<line x1="381.00" y1="12.40" x2="381.00" y2="51.70" stroke="#999" stroke-width="0.6" />
<line x1="380.50" y1="51.70" x2="420.00" y2="51.70" stroke="#888" stroke-width="0.6" />
<text x="379.80" y="52.00" font-size="3.3" text-anchor="end" font-weight="bold" fill="#222" >0</text>
<line x1="380.10" y1="51.30" x2="381.00" y2="51.30" stroke="#777" stroke-width="0.4" />
<text x="379.80" y="44.82" font-size="3.3" text-anchor="end" font-weight="bold" fill="#222" >20</text>
<line x1="380.10" y1="44.12" x2="381.00" y2="44.12" stroke="#777" stroke-width="0.4" />
<text x="379.80" y="37.64" font-size="3.3" text-anchor="end" font-weight="bold" fill="#222" >40</text>
<line x1="380.10" y1="36.94" x2="381.00" y2="36.94" stroke="#777" stroke-width="0.4" />
<text x="379.80" y="30.46" font-size="3.3" text-anchor="end" font-weight="bold" fill="#222" >60</text>
<line x1="380.10" y1="29.76" x2="381.00" y2="29.76" stroke="#777" stroke-width="0.4" />
<text x="379.80" y="23.28" font-size="3.3" text-anchor="end" font-weight="bold" fill="#222" >80</text>
<line x1="380.10" y1="22.58" x2="381.00" y2="22.58" stroke="#777" stroke-width="0.4" />
<text x="379.80" y="16.10" font-size="3.3" text-anchor="end" font-weight="bold" fill="#222" >100</text>
<line x1="380.10" y1="15.40" x2="381.00" y2="15.40" stroke="#777" stroke-width="0.4" />
<text x="381.80" y="56.90" font-size="3.3" text-anchor="middle" font-weight="bold" fill="#222" >10⁰</text>
<text x="391.30" y="56.90" font-size="3.3" text-anchor="middle" font-weight="bold" fill="#222" >10¹</text>
<text x="400.80" y="56.90" font-size="3.3" text-anchor="middle" font-weight="bold" fill="#222" >10²</text>
<text x="410.30" y="56.90" font-size="3.3" text-anchor="middle" font-weight="bold" fill="#222" >10³</text>
<text x="419.80" y="56.90" font-size="3.3" text-anchor="middle" font-weight="bold" fill="#222" >10⁴</text>
<text x="381.60" y="10.20" font-size="6.4" text-anchor="start" font-weight="normal" fill="#222" stroke="#222" stroke-width="0.18" letter-spacing="0.15">B lymph.</text>
<rect x="429.00" y="12.40" width="39.00" height="39.30" fill="#fff" stroke="#c4c4c4" stroke-width="0.7"/>
<path d="M429.00,51.30 L429.0,31.6 429.4,30.5 429.8,29.4 430.2,28.3 430.6,27.2 431.0,26.2 431.4,25.0 431.8,23.7 432.2,22.4 432.6,21.4 433.0,20.8 433.4,20.4 433.8,20.1 434.2,19.9 434.6,19.8 435.0,19.7 435.4,20.0 435.8,20.8 436.2,21.9 436.6,23.2 437.0,24.4 437.4,25.6 437.8,26.9 438.2,28.3 438.6,29.8 439.0,31.3 439.4,32.9 439.8,34.6 440.2,36.3 440.6,38.0 441.0,39.8 441.4,41.7 441.8,43.6 442.2,45.6 442.6,47.6 443.0,49.7 443.4,51.3 467.8,51.3 L468.00,51.30 Z" fill="#dadada" stroke="#8c8c8c" stroke-width="0.55" stroke-linejoin="round"/>
<path d="M429.0,15.4 429.4,30.6 429.8,30.4 430.2,27.3 430.6,26.3 431.0,28.0 431.4,29.7 431.8,28.1 432.2,23.5 432.6,20.3 433.0,18.3 433.4,17.2 433.8,20.0 434.2,25.8 434.6,24.1 435.0,18.8 435.4,16.5 435.8,15.5 436.2,16.0 436.6,19.5 437.0,22.6 437.4,23.8 437.8,24.6 438.2,25.4 438.6,26.5 439.0,28.2 439.4,30.3 439.8,32.4 440.2,34.3 440.6,36.2 441.0,38.1 441.4,39.9 441.8,41.6 442.2,43.0 442.6,44.5 443.0,45.8 443.4,47.1 443.8,48.3 444.2,49.4 444.6,50.4 445.0,51.3 467.8,51.3" fill="none" stroke="#111" stroke-width="0.9" stroke-linejoin="round"/>
<line x1="429.00" y1="12.40" x2="429.00" y2="51.70" stroke="#999" stroke-width="0.6" />
<line x1="428.50" y1="51.70" x2="468.00" y2="51.70" stroke="#888" stroke-width="0.6" />
<text x="427.80" y="52.00" font-size="3.3" text-anchor="end" font-weight="bold" fill="#222" >0</text>
<line x1="428.10" y1="51.30" x2="429.00" y2="51.30" stroke="#777" stroke-width="0.4" />
<text x="427.80" y="44.82" font-size="3.3" text-anchor="end" font-weight="bold" fill="#222" >20</text>
<line x1="428.10" y1="44.12" x2="429.00" y2="44.12" stroke="#777" stroke-width="0.4" />
<text x="427.80" y="37.64" font-size="3.3" text-anchor="end" font-weight="bold" fill="#222" >40</text>
<line x1="428.10" y1="36.94" x2="429.00" y2="36.94" stroke="#777" stroke-width="0.4" />
<text x="427.80" y="30.46" font-size="3.3" text-anchor="end" font-weight="bold" fill="#222" >60</text>
<line x1="428.10" y1="29.76" x2="429.00" y2="29.76" stroke="#777" stroke-width="0.4" />
<text x="427.80" y="23.28" font-size="3.3" text-anchor="end" font-weight="bold" fill="#222" >80</text>
<line x1="428.10" y1="22.58" x2="429.00" y2="22.58" stroke="#777" stroke-width="0.4" />
<text x="427.80" y="16.10" font-size="3.3" text-anchor="end" font-weight="bold" fill="#222" >100</text>
<line x1="428.10" y1="15.40" x2="429.00" y2="15.40" stroke="#777" stroke-width="0.4" />
<text x="429.80" y="56.90" font-size="3.3" text-anchor="middle" font-weight="bold" fill="#222" >10⁰</text>
<text x="439.30" y="56.90" font-size="3.3" text-anchor="middle" font-weight="bold" fill="#222" >10¹</text>
<text x="448.80" y="56.90" font-size="3.3" text-anchor="middle" font-weight="bold" fill="#222" >10²</text>
<text x="458.30" y="56.90" font-size="3.3" text-anchor="middle" font-weight="bold" fill="#222" >10³</text>
<text x="467.80" y="56.90" font-size="3.3" text-anchor="middle" font-weight="bold" fill="#222" >10⁴</text>
<text x="429.60" y="10.20" font-size="6.4" text-anchor="start" font-weight="normal" fill="#222" stroke="#222" stroke-width="0.18" letter-spacing="0.15">NK cells</text>
<rect x="476.50" y="12.40" width="39.00" height="39.30" fill="#fff" stroke="#c4c4c4" stroke-width="0.7"/>
<path d="M476.50,51.30 L476.5,47.7 476.9,47.1 477.3,46.4 477.7,45.6 478.1,44.8 478.5,43.9 478.9,42.9 479.3,41.9 479.7,40.9 480.1,39.8 480.5,38.7 480.9,37.6 481.3,36.3 481.7,35.0 482.1,33.5 482.5,32.0 482.9,30.4 483.3,28.8 483.7,27.0 484.1,24.7 484.5,22.0 484.9,19.4 485.3,17.2 485.7,15.8 486.1,15.5 486.5,18.0 486.9,22.6 487.3,28.3 487.7,33.8 488.1,37.8 488.5,41.1 488.9,44.2 489.3,47.0 489.7,49.6 490.1,51.3 515.3,51.3 L515.50,51.30 Z" fill="#dadada" stroke="#8c8c8c" stroke-width="0.55" stroke-linejoin="round"/>
<path d="M476.5,51.3 490.1,51.3 490.5,51.2 490.9,51.2 491.3,51.0 491.7,50.7 492.1,50.2 492.5,49.3 492.9,47.9 493.3,45.8 493.7,42.9 494.1,39.1 494.5,34.6 494.9,29.5 495.3,24.5 495.7,20.1 496.1,16.9 496.5,15.5 496.9,16.0 497.3,18.7 497.7,23.0 498.1,28.2 498.5,33.6 498.9,38.5 499.3,42.7 499.7,45.8 500.1,48.0 500.5,49.5 500.9,50.3 501.3,50.8 501.7,51.1 502.1,51.2 502.5,51.3 515.3,51.3" fill="none" stroke="#111" stroke-width="0.9" stroke-linejoin="round"/>
<line x1="476.50" y1="12.40" x2="476.50" y2="51.70" stroke="#999" stroke-width="0.6" />
<line x1="476.00" y1="51.70" x2="515.50" y2="51.70" stroke="#888" stroke-width="0.6" />
<text x="475.30" y="52.00" font-size="3.3" text-anchor="end" font-weight="bold" fill="#222" >0</text>
<line x1="475.60" y1="51.30" x2="476.50" y2="51.30" stroke="#777" stroke-width="0.4" />
<text x="475.30" y="44.82" font-size="3.3" text-anchor="end" font-weight="bold" fill="#222" >20</text>
<line x1="475.60" y1="44.12" x2="476.50" y2="44.12" stroke="#777" stroke-width="0.4" />
<text x="475.30" y="37.64" font-size="3.3" text-anchor="end" font-weight="bold" fill="#222" >40</text>
<line x1="475.60" y1="36.94" x2="476.50" y2="36.94" stroke="#777" stroke-width="0.4" />
<text x="475.30" y="30.46" font-size="3.3" text-anchor="end" font-weight="bold" fill="#222" >60</text>
<line x1="475.60" y1="29.76" x2="476.50" y2="29.76" stroke="#777" stroke-width="0.4" />
<text x="475.30" y="23.28" font-size="3.3" text-anchor="end" font-weight="bold" fill="#222" >80</text>
<line x1="475.60" y1="22.58" x2="476.50" y2="22.58" stroke="#777" stroke-width="0.4" />
<text x="475.30" y="16.10" font-size="3.3" text-anchor="end" font-weight="bold" fill="#222" >100</text>
<line x1="475.60" y1="15.40" x2="476.50" y2="15.40" stroke="#777" stroke-width="0.4" />
<text x="477.30" y="56.90" font-size="3.3" text-anchor="middle" font-weight="bold" fill="#222" >10⁰</text>
<text x="486.80" y="56.90" font-size="3.3" text-anchor="middle" font-weight="bold" fill="#222" >10¹</text>
<text x="496.30" y="56.90" font-size="3.3" text-anchor="middle" font-weight="bold" fill="#222" >10²</text>
<text x="505.80" y="56.90" font-size="3.3" text-anchor="middle" font-weight="bold" fill="#222" >10³</text>
<text x="515.30" y="56.90" font-size="3.3" text-anchor="middle" font-weight="bold" fill="#222" >10⁴</text>
<text x="477.10" y="10.20" font-size="6.4" text-anchor="start" font-weight="normal" fill="#222" stroke="#222" stroke-width="0.18" letter-spacing="0.15">neutrophils</text>
<rect x="332.50" y="65.30" width="39.00" height="39.30" fill="#fff" stroke="#c4c4c4" stroke-width="0.7"/>
<path d="M332.50,104.20 L332.5,104.2 337.3,104.2 337.7,104.1 338.1,104.0 338.5,103.8 338.9,103.5 339.3,102.9 339.7,102.0 340.1,100.7 340.5,98.8 340.9,96.3 341.3,93.0 341.7,89.1 342.1,84.7 342.5,80.1 342.9,75.8 343.3,72.1 343.7,69.5 344.1,68.3 344.5,69.6 344.9,74.9 345.3,82.4 345.7,90.0 346.1,96.1 346.5,100.2 346.9,102.4 347.3,103.5 347.7,104.0 348.1,104.1 348.5,104.2 371.3,104.2 L371.50,104.20 Z" fill="#dadada" stroke="#8c8c8c" stroke-width="0.55" stroke-linejoin="round"/>
<path d="M332.5,104.2 348.9,104.2 349.3,104.1 349.7,104.0 350.1,103.7 350.5,102.9 350.9,101.3 351.3,98.5 351.7,94.0 352.1,87.8 352.5,80.6 352.9,73.9 353.3,69.4 353.7,68.4 354.1,71.8 354.5,78.5 354.9,86.3 355.3,93.3 355.7,98.4 356.1,101.5 356.5,103.1 356.9,103.8 357.3,104.1 357.7,104.2 371.3,104.2" fill="none" stroke="#111" stroke-width="0.9" stroke-linejoin="round"/>
<line x1="332.50" y1="65.30" x2="332.50" y2="104.60" stroke="#999" stroke-width="0.6" />
<line x1="332.00" y1="104.60" x2="371.50" y2="104.60" stroke="#888" stroke-width="0.6" />
<text x="331.30" y="104.90" font-size="3.3" text-anchor="end" font-weight="bold" fill="#222" >0</text>
<line x1="331.60" y1="104.20" x2="332.50" y2="104.20" stroke="#777" stroke-width="0.4" />
<text x="331.30" y="97.72" font-size="3.3" text-anchor="end" font-weight="bold" fill="#222" >20</text>
<line x1="331.60" y1="97.02" x2="332.50" y2="97.02" stroke="#777" stroke-width="0.4" />
<text x="331.30" y="90.54" font-size="3.3" text-anchor="end" font-weight="bold" fill="#222" >40</text>
<line x1="331.60" y1="89.84" x2="332.50" y2="89.84" stroke="#777" stroke-width="0.4" />
<text x="331.30" y="83.36" font-size="3.3" text-anchor="end" font-weight="bold" fill="#222" >60</text>
<line x1="331.60" y1="82.66" x2="332.50" y2="82.66" stroke="#777" stroke-width="0.4" />
<text x="331.30" y="76.18" font-size="3.3" text-anchor="end" font-weight="bold" fill="#222" >80</text>
<line x1="331.60" y1="75.48" x2="332.50" y2="75.48" stroke="#777" stroke-width="0.4" />
<text x="331.30" y="69.00" font-size="3.3" text-anchor="end" font-weight="bold" fill="#222" >100</text>
<line x1="331.60" y1="68.30" x2="332.50" y2="68.30" stroke="#777" stroke-width="0.4" />
<text x="333.30" y="109.80" font-size="3.3" text-anchor="middle" font-weight="bold" fill="#222" >10⁰</text>
<text x="342.80" y="109.80" font-size="3.3" text-anchor="middle" font-weight="bold" fill="#222" >10¹</text>
<text x="352.30" y="109.80" font-size="3.3" text-anchor="middle" font-weight="bold" fill="#222" >10²</text>
<text x="361.80" y="109.80" font-size="3.3" text-anchor="middle" font-weight="bold" fill="#222" >10³</text>
<text x="371.30" y="109.80" font-size="3.3" text-anchor="middle" font-weight="bold" fill="#222" >10⁴</text>
<text x="333.10" y="63.00" font-size="6.4" text-anchor="start" font-weight="normal" fill="#222" stroke="#222" stroke-width="0.18" letter-spacing="0.15">eosinophils</text>
<rect x="381.00" y="65.30" width="39.00" height="39.30" fill="#fff" stroke="#c4c4c4" stroke-width="0.7"/>
<path d="M381.00,104.20 L381.0,103.5 381.4,103.4 381.8,103.3 382.2,103.1 382.6,102.8 383.0,102.4 383.4,102.0 383.8,101.6 384.2,101.0 384.6,100.0 385.0,98.6 385.4,97.2 385.8,95.8 386.2,94.7 386.6,93.6 387.0,92.6 387.4,91.6 387.8,90.9 388.2,90.3 388.6,89.9 389.0,89.6 389.4,89.2 389.8,88.7 390.2,88.1 390.6,87.4 391.0,86.2 391.4,82.7 391.8,76.6 392.2,70.9 392.6,68.3 393.0,73.9 393.4,83.0 393.8,87.7 394.2,91.4 394.6,94.4 395.0,97.0 395.4,99.6 395.8,102.0 396.2,103.7 396.6,104.2 419.8,104.2 L420.00,104.20 Z" fill="#dadada" stroke="#8c8c8c" stroke-width="0.55" stroke-linejoin="round"/>
<path d="M381.0,88.0 381.4,100.4 381.8,101.3 382.6,101.3 383.0,101.2 383.4,101.1 383.8,101.0 384.2,100.9 384.6,100.8 385.0,100.6 385.4,100.3 385.8,99.6 386.2,98.8 386.6,97.9 387.0,97.0 387.4,96.2 387.8,95.4 388.2,94.5 388.6,93.7 389.0,92.8 389.4,91.9 389.8,91.0 390.2,90.3 390.6,89.4 391.0,88.0 391.4,84.1 391.8,77.4 392.2,71.1 392.6,68.3 393.0,72.9 393.4,80.2 393.8,82.3 394.2,82.9 394.6,83.2 395.0,83.4 395.4,83.7 395.8,84.1 396.2,85.0 396.6,86.7 397.0,88.9 397.4,91.1 397.8,93.3 398.2,95.8 398.6,98.4 399.0,100.7 399.4,102.5 399.8,103.4 400.2,103.5 400.6,103.5 401.0,103.6 401.8,103.6 402.2,103.7 403.0,103.7 403.4,103.8 404.6,103.8 405.0,103.9 406.2,103.9 406.6,104.0 408.6,104.0 409.0,104.1 412.6,104.1 413.0,104.2 419.8,104.2" fill="none" stroke="#111" stroke-width="0.9" stroke-linejoin="round"/>
<line x1="381.00" y1="65.30" x2="381.00" y2="104.60" stroke="#999" stroke-width="0.6" />
<line x1="380.50" y1="104.60" x2="420.00" y2="104.60" stroke="#888" stroke-width="0.6" />
<text x="379.80" y="104.90" font-size="3.3" text-anchor="end" font-weight="bold" fill="#222" >0</text>
<line x1="380.10" y1="104.20" x2="381.00" y2="104.20" stroke="#777" stroke-width="0.4" />
<text x="379.80" y="97.72" font-size="3.3" text-anchor="end" font-weight="bold" fill="#222" >20</text>
<line x1="380.10" y1="97.02" x2="381.00" y2="97.02" stroke="#777" stroke-width="0.4" />
<text x="379.80" y="90.54" font-size="3.3" text-anchor="end" font-weight="bold" fill="#222" >40</text>
<line x1="380.10" y1="89.84" x2="381.00" y2="89.84" stroke="#777" stroke-width="0.4" />
<text x="379.80" y="83.36" font-size="3.3" text-anchor="end" font-weight="bold" fill="#222" >60</text>
<line x1="380.10" y1="82.66" x2="381.00" y2="82.66" stroke="#777" stroke-width="0.4" />
<text x="379.80" y="76.18" font-size="3.3" text-anchor="end" font-weight="bold" fill="#222" >80</text>
<line x1="380.10" y1="75.48" x2="381.00" y2="75.48" stroke="#777" stroke-width="0.4" />
<text x="379.80" y="69.00" font-size="3.3" text-anchor="end" font-weight="bold" fill="#222" >100</text>
<line x1="380.10" y1="68.30" x2="381.00" y2="68.30" stroke="#777" stroke-width="0.4" />
<text x="381.80" y="109.80" font-size="3.3" text-anchor="middle" font-weight="bold" fill="#222" >10⁰</text>
<text x="391.30" y="109.80" font-size="3.3" text-anchor="middle" font-weight="bold" fill="#222" >10¹</text>
<text x="400.80" y="109.80" font-size="3.3" text-anchor="middle" font-weight="bold" fill="#222" >10²</text>
<text x="410.30" y="109.80" font-size="3.3" text-anchor="middle" font-weight="bold" fill="#222" >10³</text>
<text x="419.80" y="109.80" font-size="3.3" text-anchor="middle" font-weight="bold" fill="#222" >10⁴</text>
<text x="381.60" y="63.00" font-size="6.4" text-anchor="start" font-weight="normal" fill="#222" stroke="#222" stroke-width="0.18" letter-spacing="0.15">basophils</text>
<rect x="429.00" y="65.30" width="39.00" height="39.30" fill="#fff" stroke="#c4c4c4" stroke-width="0.7"/>
<path d="M429.00,104.20 L429.0,89.1 429.4,88.8 429.8,88.3 430.2,87.7 430.6,87.0 431.0,86.2 431.4,85.3 431.8,84.0 432.2,82.5 432.6,80.9 433.0,79.3 433.4,77.7 433.8,76.2 434.2,74.8 434.6,73.3 435.0,71.7 435.4,70.2 435.8,69.1 436.2,68.4 436.6,68.9 437.0,72.7 437.4,78.4 437.8,84.1 438.2,88.1 438.6,91.7 439.0,95.0 439.4,98.2 439.8,101.0 440.2,103.6 440.6,104.2 467.8,104.2 L468.00,104.20 Z" fill="#dadada" stroke="#8c8c8c" stroke-width="0.55" stroke-linejoin="round"/>
<path d="M429.0,88.0 429.4,99.8 429.8,100.6 430.2,100.4 430.6,100.1 431.0,99.7 431.4,99.3 431.8,99.0 432.2,98.7 432.6,98.3 433.0,98.0 433.4,97.7 433.8,97.4 434.2,97.0 434.6,96.7 435.0,96.3 435.4,96.0 435.8,95.7 436.2,95.4 436.6,95.2 437.0,94.8 437.4,94.4 437.8,93.8 438.2,92.7 438.6,89.6 439.0,85.5 439.4,81.6 439.8,78.7 440.2,76.0 440.6,73.6 441.0,71.9 441.4,70.6 441.8,69.5 442.2,68.7 442.6,68.3 443.0,69.1 443.4,71.9 443.8,75.6 444.2,79.0 444.6,83.2 445.0,87.8 445.4,92.2 445.8,95.7 446.2,98.1 446.6,100.2 447.0,101.9 447.4,103.0 447.8,103.1 448.2,103.2 449.0,103.2 449.4,103.3 450.6,103.3 451.0,103.4 453.4,103.4 453.8,103.5 457.0,103.5 457.4,103.4 457.8,103.1 458.2,102.8 458.6,102.5 459.0,102.4 459.4,102.5 459.8,102.9 460.2,103.3 460.6,103.7 461.0,103.8 461.4,103.9 461.8,103.9 462.2,104.0 463.0,104.0 463.4,104.1 465.0,104.1 465.4,104.2 467.8,104.2" fill="none" stroke="#111" stroke-width="0.9" stroke-linejoin="round"/>
<line x1="429.00" y1="65.30" x2="429.00" y2="104.60" stroke="#999" stroke-width="0.6" />
<line x1="428.50" y1="104.60" x2="468.00" y2="104.60" stroke="#888" stroke-width="0.6" />
<text x="427.80" y="104.90" font-size="3.3" text-anchor="end" font-weight="bold" fill="#222" >0</text>
<line x1="428.10" y1="104.20" x2="429.00" y2="104.20" stroke="#777" stroke-width="0.4" />
<text x="427.80" y="97.72" font-size="3.3" text-anchor="end" font-weight="bold" fill="#222" >20</text>
<line x1="428.10" y1="97.02" x2="429.00" y2="97.02" stroke="#777" stroke-width="0.4" />
<text x="427.80" y="90.54" font-size="3.3" text-anchor="end" font-weight="bold" fill="#222" >40</text>
<line x1="428.10" y1="89.84" x2="429.00" y2="89.84" stroke="#777" stroke-width="0.4" />
<text x="427.80" y="83.36" font-size="3.3" text-anchor="end" font-weight="bold" fill="#222" >60</text>
<line x1="428.10" y1="82.66" x2="429.00" y2="82.66" stroke="#777" stroke-width="0.4" />
<text x="427.80" y="76.18" font-size="3.3" text-anchor="end" font-weight="bold" fill="#222" >80</text>
<line x1="428.10" y1="75.48" x2="429.00" y2="75.48" stroke="#777" stroke-width="0.4" />
<text x="427.80" y="69.00" font-size="3.3" text-anchor="end" font-weight="bold" fill="#222" >100</text>
<line x1="428.10" y1="68.30" x2="429.00" y2="68.30" stroke="#777" stroke-width="0.4" />
<text x="429.80" y="109.80" font-size="3.3" text-anchor="middle" font-weight="bold" fill="#222" >10⁰</text>
<text x="439.30" y="109.80" font-size="3.3" text-anchor="middle" font-weight="bold" fill="#222" >10¹</text>
<text x="448.80" y="109.80" font-size="3.3" text-anchor="middle" font-weight="bold" fill="#222" >10²</text>
<text x="458.30" y="109.80" font-size="3.3" text-anchor="middle" font-weight="bold" fill="#222" >10³</text>
<text x="467.80" y="109.80" font-size="3.3" text-anchor="middle" font-weight="bold" fill="#222" >10⁴</text>
<text x="429.60" y="63.00" font-size="6.4" text-anchor="start" font-weight="normal" fill="#222" stroke="#222" stroke-width="0.18" letter-spacing="0.15">monocytes</text>
<rect x="476.50" y="65.30" width="39.00" height="39.30" fill="#fff" stroke="#c4c4c4" stroke-width="0.7"/>
<path d="M476.50,104.20 L476.5,104.2 486.9,104.2 487.3,104.1 487.7,104.1 488.1,104.0 488.5,103.9 488.9,103.6 489.3,103.3 489.7,102.7 490.1,101.9 490.5,100.8 490.9,99.3 491.3,97.4 491.7,95.0 492.1,92.2 492.5,88.9 492.9,85.3 493.3,81.5 493.7,77.8 494.1,74.4 494.5,71.5 494.9,69.5 495.3,68.4 495.7,68.5 496.1,70.0 496.5,72.9 496.9,76.8 497.3,81.3 497.7,85.8 498.1,90.1 498.5,93.9 498.9,97.0 499.3,99.3 499.7,101.1 500.1,102.3 500.5,103.1 500.9,103.6 501.3,103.9 501.7,104.0 502.1,104.1 502.5,104.2 515.3,104.2 L515.50,104.20 Z" fill="#dadada" stroke="#8c8c8c" stroke-width="0.55" stroke-linejoin="round"/>
<path d="M476.5,104.2 495.3,104.2 495.7,104.1 496.1,104.0 496.5,103.9 496.9,103.7 497.3,103.3 497.7,102.6 498.1,101.7 498.5,100.2 498.9,98.3 499.3,95.7 499.7,92.5 500.1,88.8 500.5,84.6 500.9,80.3 501.3,76.1 501.7,72.5 502.1,69.9 502.5,68.5 502.9,68.5 503.3,70.2 503.7,73.4 504.1,77.7 504.5,82.4 504.9,87.2 505.3,91.6 505.7,95.2 506.1,98.2 506.5,100.3 506.9,101.8 507.3,102.8 507.7,103.4 508.1,103.8 508.5,104.0 508.9,104.1 509.3,104.2 515.3,104.2" fill="none" stroke="#111" stroke-width="0.9" stroke-linejoin="round"/>
<line x1="476.50" y1="65.30" x2="476.50" y2="104.60" stroke="#999" stroke-width="0.6" />
<line x1="476.00" y1="104.60" x2="515.50" y2="104.60" stroke="#888" stroke-width="0.6" />
<text x="475.30" y="104.90" font-size="3.3" text-anchor="end" font-weight="bold" fill="#222" >0</text>
<line x1="475.60" y1="104.20" x2="476.50" y2="104.20" stroke="#777" stroke-width="0.4" />
<text x="475.30" y="97.72" font-size="3.3" text-anchor="end" font-weight="bold" fill="#222" >20</text>
<line x1="475.60" y1="97.02" x2="476.50" y2="97.02" stroke="#777" stroke-width="0.4" />
<text x="475.30" y="90.54" font-size="3.3" text-anchor="end" font-weight="bold" fill="#222" >40</text>
<line x1="475.60" y1="89.84" x2="476.50" y2="89.84" stroke="#777" stroke-width="0.4" />
<text x="475.30" y="83.36" font-size="3.3" text-anchor="end" font-weight="bold" fill="#222" >60</text>
<line x1="475.60" y1="82.66" x2="476.50" y2="82.66" stroke="#777" stroke-width="0.4" />
<text x="475.30" y="76.18" font-size="3.3" text-anchor="end" font-weight="bold" fill="#222" >80</text>
<line x1="475.60" y1="75.48" x2="476.50" y2="75.48" stroke="#777" stroke-width="0.4" />
<text x="475.30" y="69.00" font-size="3.3" text-anchor="end" font-weight="bold" fill="#222" >100</text>
<line x1="475.60" y1="68.30" x2="476.50" y2="68.30" stroke="#777" stroke-width="0.4" />
<text x="477.30" y="109.80" font-size="3.3" text-anchor="middle" font-weight="bold" fill="#222" >10⁰</text>
<text x="486.80" y="109.80" font-size="3.3" text-anchor="middle" font-weight="bold" fill="#222" >10¹</text>
<text x="496.30" y="109.80" font-size="3.3" text-anchor="middle" font-weight="bold" fill="#222" >10²</text>
<text x="505.80" y="109.80" font-size="3.3" text-anchor="middle" font-weight="bold" fill="#222" >10³</text>
<text x="515.30" y="109.80" font-size="3.3" text-anchor="middle" font-weight="bold" fill="#222" >10⁴</text>
<text x="477.10" y="63.00" font-size="6.4" text-anchor="start" font-weight="normal" fill="#222" stroke="#222" stroke-width="0.18" letter-spacing="0.15">per. MΦ</text>
<text x="0" y="0" font-size="7.0" text-anchor="middle" fill="#222" stroke="#222" stroke-width="0.12" transform="translate(322.50,31.50) rotate(-90)">% of max</text>
<text x="0" y="0" font-size="7.0" text-anchor="middle" fill="#222" stroke="#222" stroke-width="0.12" transform="translate(322.50,84.50) rotate(-90)">% of max</text>
<line x1="332.30" y1="115.20" x2="393.50" y2="115.20" stroke="#222" stroke-width="1.0" />
<line x1="452.70" y1="115.20" x2="516.00" y2="115.20" stroke="#222" stroke-width="1.0" />
<path d="M510.80,112.20 L516.00,115.20 L510.80,118.20" fill="none" stroke="#222" stroke-width="0.9"/>
<text x="423.10" y="117.70" font-size="7.2" text-anchor="middle" font-weight="normal" fill="#222" stroke="#222" stroke-width="0.15">hFcγRIIA</text>
<text x="311.40" y="127.80" font-size="11.8" text-anchor="start" font-weight="bold" fill="#000" >D</text>
<rect x="332.50" y="132.40" width="39.00" height="39.30" fill="#fff" stroke="#c4c4c4" stroke-width="0.7"/>
<path d="M332.50,171.30 L332.5,157.7 332.9,157.0 333.3,156.3 333.7,155.4 334.1,154.4 334.5,153.3 334.9,152.1 335.3,150.5 335.7,148.8 336.1,147.0 336.5,145.3 336.9,143.7 337.3,142.1 337.7,140.4 338.1,138.7 338.5,137.3 338.9,136.4 339.3,136.2 339.7,138.0 340.1,141.3 340.5,145.3 340.9,149.0 341.3,151.9 341.7,154.8 342.1,157.7 342.5,160.5 342.9,163.2 343.3,166.0 343.7,168.7 344.1,171.3 371.3,171.3 L371.50,171.30 Z" fill="#dadada" stroke="#8c8c8c" stroke-width="0.55" stroke-linejoin="round"/>
<path d="M332.5,156.2 332.9,155.7 333.3,155.1 333.7,154.2 334.1,153.3 334.5,152.3 334.9,151.0 335.3,149.4 335.7,147.5 336.1,145.7 336.5,143.8 336.9,142.2 337.3,140.8 337.7,139.2 338.1,137.7 338.5,136.4 338.9,135.6 339.3,135.5 339.7,137.2 340.1,140.6 340.5,144.5 340.9,148.3 341.3,151.3 341.7,154.2 342.1,157.1 342.5,160.0 342.9,162.9 343.3,165.7 343.7,168.5 344.1,171.3 371.3,171.3" fill="none" stroke="#111" stroke-width="0.9" stroke-linejoin="round"/>
<line x1="332.50" y1="132.40" x2="332.50" y2="171.70" stroke="#999" stroke-width="0.6" />
<line x1="332.00" y1="171.70" x2="371.50" y2="171.70" stroke="#888" stroke-width="0.6" />
<text x="331.30" y="172.00" font-size="3.3" text-anchor="end" font-weight="bold" fill="#222" >0</text>
<line x1="331.60" y1="171.30" x2="332.50" y2="171.30" stroke="#777" stroke-width="0.4" />
<text x="331.30" y="164.82" font-size="3.3" text-anchor="end" font-weight="bold" fill="#222" >20</text>
<line x1="331.60" y1="164.12" x2="332.50" y2="164.12" stroke="#777" stroke-width="0.4" />
<text x="331.30" y="157.64" font-size="3.3" text-anchor="end" font-weight="bold" fill="#222" >40</text>
<line x1="331.60" y1="156.94" x2="332.50" y2="156.94" stroke="#777" stroke-width="0.4" />
<text x="331.30" y="150.46" font-size="3.3" text-anchor="end" font-weight="bold" fill="#222" >60</text>
<line x1="331.60" y1="149.76" x2="332.50" y2="149.76" stroke="#777" stroke-width="0.4" />
<text x="331.30" y="143.28" font-size="3.3" text-anchor="end" font-weight="bold" fill="#222" >80</text>
<line x1="331.60" y1="142.58" x2="332.50" y2="142.58" stroke="#777" stroke-width="0.4" />
<text x="331.30" y="136.10" font-size="3.3" text-anchor="end" font-weight="bold" fill="#222" >100</text>
<line x1="331.60" y1="135.40" x2="332.50" y2="135.40" stroke="#777" stroke-width="0.4" />
<text x="333.30" y="176.90" font-size="3.3" text-anchor="middle" font-weight="bold" fill="#222" >10⁰</text>
<text x="342.80" y="176.90" font-size="3.3" text-anchor="middle" font-weight="bold" fill="#222" >10¹</text>
<text x="352.30" y="176.90" font-size="3.3" text-anchor="middle" font-weight="bold" fill="#222" >10²</text>
<text x="361.80" y="176.90" font-size="3.3" text-anchor="middle" font-weight="bold" fill="#222" >10³</text>
<text x="371.30" y="176.90" font-size="3.3" text-anchor="middle" font-weight="bold" fill="#222" >10⁴</text>
<text x="333.10" y="130.00" font-size="6.4" text-anchor="start" font-weight="normal" fill="#222" stroke="#222" stroke-width="0.18" letter-spacing="0.15">T lymph.</text>
<rect x="381.00" y="132.40" width="39.00" height="39.30" fill="#fff" stroke="#c4c4c4" stroke-width="0.7"/>
<path d="M381.00,171.30 L381.0,150.5 381.4,149.2 381.8,147.9 382.2,146.6 382.6,145.5 383.0,144.4 383.4,143.3 383.8,142.1 384.2,140.9 384.6,139.7 385.0,138.7 385.4,137.9 385.8,137.4 386.2,137.2 386.6,137.8 387.0,139.5 387.4,141.9 387.8,144.7 388.2,147.7 388.6,150.4 389.0,153.3 389.4,156.5 389.8,159.8 390.2,163.5 390.6,167.3 391.0,171.3 419.8,171.3 L420.00,171.30 Z" fill="#dadada" stroke="#8c8c8c" stroke-width="0.55" stroke-linejoin="round"/>
<path d="M381.0,135.4 381.4,150.6 381.8,150.4 382.2,147.3 382.6,146.3 383.0,148.0 383.4,149.7 383.8,147.7 384.2,141.9 384.6,138.6 385.0,137.2 385.4,136.1 385.8,135.5 386.2,135.8 386.6,137.9 387.0,139.7 387.4,140.6 387.8,141.3 388.2,141.7 388.6,141.8 389.0,141.3 389.4,140.5 389.8,139.8 390.2,140.5 390.6,145.0 391.0,149.0 391.4,150.9 391.8,152.4 392.2,153.6 392.6,154.7 393.0,155.7 393.4,156.7 393.8,157.7 394.2,158.6 394.6,159.4 395.0,160.3 395.4,161.1 395.8,161.9 396.2,162.7 396.6,163.6 397.0,164.8 397.4,166.1 397.8,167.4 398.2,168.7 398.6,169.9 399.0,170.7 399.4,171.2 399.8,171.3 419.8,171.3" fill="none" stroke="#111" stroke-width="0.9" stroke-linejoin="round"/>
<line x1="381.00" y1="132.40" x2="381.00" y2="171.70" stroke="#999" stroke-width="0.6" />
<line x1="380.50" y1="171.70" x2="420.00" y2="171.70" stroke="#888" stroke-width="0.6" />
<text x="379.80" y="172.00" font-size="3.3" text-anchor="end" font-weight="bold" fill="#222" >0</text>
<line x1="380.10" y1="171.30" x2="381.00" y2="171.30" stroke="#777" stroke-width="0.4" />
<text x="379.80" y="164.82" font-size="3.3" text-anchor="end" font-weight="bold" fill="#222" >20</text>
<line x1="380.10" y1="164.12" x2="381.00" y2="164.12" stroke="#777" stroke-width="0.4" />
<text x="379.80" y="157.64" font-size="3.3" text-anchor="end" font-weight="bold" fill="#222" >40</text>
<line x1="380.10" y1="156.94" x2="381.00" y2="156.94" stroke="#777" stroke-width="0.4" />
<text x="379.80" y="150.46" font-size="3.3" text-anchor="end" font-weight="bold" fill="#222" >60</text>
<line x1="380.10" y1="149.76" x2="381.00" y2="149.76" stroke="#777" stroke-width="0.4" />
<text x="379.80" y="143.28" font-size="3.3" text-anchor="end" font-weight="bold" fill="#222" >80</text>
<line x1="380.10" y1="142.58" x2="381.00" y2="142.58" stroke="#777" stroke-width="0.4" />
<text x="379.80" y="136.10" font-size="3.3" text-anchor="end" font-weight="bold" fill="#222" >100</text>
<line x1="380.10" y1="135.40" x2="381.00" y2="135.40" stroke="#777" stroke-width="0.4" />
<text x="381.80" y="176.90" font-size="3.3" text-anchor="middle" font-weight="bold" fill="#222" >10⁰</text>
<text x="391.30" y="176.90" font-size="3.3" text-anchor="middle" font-weight="bold" fill="#222" >10¹</text>
<text x="400.80" y="176.90" font-size="3.3" text-anchor="middle" font-weight="bold" fill="#222" >10²</text>
<text x="410.30" y="176.90" font-size="3.3" text-anchor="middle" font-weight="bold" fill="#222" >10³</text>
<text x="419.80" y="176.90" font-size="3.3" text-anchor="middle" font-weight="bold" fill="#222" >10⁴</text>
<text x="381.60" y="130.00" font-size="6.4" text-anchor="start" font-weight="normal" fill="#222" stroke="#222" stroke-width="0.18" letter-spacing="0.15">B lymph.</text>
<rect x="429.00" y="132.40" width="39.00" height="39.30" fill="#fff" stroke="#c4c4c4" stroke-width="0.7"/>
<path d="M429.00,171.30 L429.0,164.1 429.4,163.0 429.8,161.9 430.2,160.7 430.6,159.5 431.0,158.3 431.4,157.1 431.8,155.8 432.2,154.5 432.6,153.1 433.0,151.7 433.4,150.3 433.8,148.8 434.2,147.3 434.6,145.9 435.0,144.4 435.4,142.7 435.8,140.7 436.2,138.8 436.6,137.2 437.0,136.2 437.4,136.5 437.8,139.5 438.2,144.0 438.6,148.7 439.0,152.8 439.4,157.1 439.8,161.6 440.2,166.4 440.6,171.3 467.8,171.3 L468.00,171.30 Z" fill="#dadada" stroke="#8c8c8c" stroke-width="0.55" stroke-linejoin="round"/>
<path d="M429.0,148.0 429.4,161.4 429.8,164.0 430.2,163.0 430.6,161.3 431.0,159.2 431.4,156.9 431.8,154.9 432.2,153.3 432.6,151.8 433.0,150.4 433.4,148.9 433.8,147.5 434.2,146.1 434.6,144.7 435.0,143.3 435.4,141.6 435.8,139.8 436.2,137.9 436.6,136.4 437.0,135.5 437.4,135.8 437.8,138.8 438.2,143.3 438.6,148.0 439.0,152.6 439.4,158.5 439.8,164.3 440.2,168.8 440.6,170.6 441.4,170.6 441.8,170.7 443.0,170.7 443.4,170.8 444.6,170.8 445.0,170.9 446.6,170.9 447.0,171.0 449.0,171.0 449.4,171.1 452.2,171.1 452.6,171.2 457.4,171.2 457.8,171.3 467.8,171.3" fill="none" stroke="#111" stroke-width="0.9" stroke-linejoin="round"/>
<line x1="429.00" y1="132.40" x2="429.00" y2="171.70" stroke="#999" stroke-width="0.6" />
<line x1="428.50" y1="171.70" x2="468.00" y2="171.70" stroke="#888" stroke-width="0.6" />
<text x="427.80" y="172.00" font-size="3.3" text-anchor="end" font-weight="bold" fill="#222" >0</text>
<line x1="428.10" y1="171.30" x2="429.00" y2="171.30" stroke="#777" stroke-width="0.4" />
<text x="427.80" y="164.82" font-size="3.3" text-anchor="end" font-weight="bold" fill="#222" >20</text>
<line x1="428.10" y1="164.12" x2="429.00" y2="164.12" stroke="#777" stroke-width="0.4" />
<text x="427.80" y="157.64" font-size="3.3" text-anchor="end" font-weight="bold" fill="#222" >40</text>
<line x1="428.10" y1="156.94" x2="429.00" y2="156.94" stroke="#777" stroke-width="0.4" />
<text x="427.80" y="150.46" font-size="3.3" text-anchor="end" font-weight="bold" fill="#222" >60</text>
<line x1="428.10" y1="149.76" x2="429.00" y2="149.76" stroke="#777" stroke-width="0.4" />
<text x="427.80" y="143.28" font-size="3.3" text-anchor="end" font-weight="bold" fill="#222" >80</text>
<line x1="428.10" y1="142.58" x2="429.00" y2="142.58" stroke="#777" stroke-width="0.4" />
<text x="427.80" y="136.10" font-size="3.3" text-anchor="end" font-weight="bold" fill="#222" >100</text>
<line x1="428.10" y1="135.40" x2="429.00" y2="135.40" stroke="#777" stroke-width="0.4" />
<text x="429.80" y="176.90" font-size="3.3" text-anchor="middle" font-weight="bold" fill="#222" >10⁰</text>
<text x="439.30" y="176.90" font-size="3.3" text-anchor="middle" font-weight="bold" fill="#222" >10¹</text>
<text x="448.80" y="176.90" font-size="3.3" text-anchor="middle" font-weight="bold" fill="#222" >10²</text>
<text x="458.30" y="176.90" font-size="3.3" text-anchor="middle" font-weight="bold" fill="#222" >10³</text>
<text x="467.80" y="176.90" font-size="3.3" text-anchor="middle" font-weight="bold" fill="#222" >10⁴</text>
<text x="429.60" y="130.00" font-size="6.4" text-anchor="start" font-weight="normal" fill="#222" stroke="#222" stroke-width="0.18" letter-spacing="0.15">NK cells</text>
<rect x="476.50" y="132.40" width="39.00" height="39.30" fill="#fff" stroke="#c4c4c4" stroke-width="0.7"/>
<path d="M476.50,171.30 L476.5,171.3 478.1,171.3 478.5,171.2 478.9,171.2 479.3,171.1 479.7,171.0 480.1,170.8 480.5,170.5 480.9,170.0 481.3,169.4 481.7,168.4 482.1,167.2 482.5,165.6 482.9,163.5 483.3,161.1 483.7,158.1 484.1,154.9 484.5,151.3 484.9,147.7 485.3,144.2 485.7,141.0 486.1,138.4 486.5,136.5 486.9,135.5 487.3,135.9 487.7,139.6 488.1,145.9 488.5,153.1 488.9,159.6 489.3,164.6 489.7,167.9 490.1,169.7 490.5,170.7 490.9,171.1 491.3,171.2 491.7,171.3 515.3,171.3 L515.50,171.30 Z" fill="#dadada" stroke="#8c8c8c" stroke-width="0.55" stroke-linejoin="round"/>
<path d="M476.5,171.3 494.9,171.3 495.3,171.2 495.7,171.1 496.1,170.8 496.5,170.3 496.9,169.3 497.3,167.6 497.7,165.0 498.1,161.3 498.5,156.5 498.9,151.0 499.3,145.2 499.7,140.2 500.1,136.7 500.5,135.4 500.9,136.8 501.3,140.8 501.7,146.4 502.1,152.6 502.5,158.4 502.9,163.0 503.3,166.4 503.7,168.7 504.1,170.0 504.5,170.7 504.9,171.0 505.3,171.2 505.7,171.3 515.3,171.3" fill="none" stroke="#111" stroke-width="0.9" stroke-linejoin="round"/>
<line x1="476.50" y1="132.40" x2="476.50" y2="171.70" stroke="#999" stroke-width="0.6" />
<line x1="476.00" y1="171.70" x2="515.50" y2="171.70" stroke="#888" stroke-width="0.6" />
<text x="475.30" y="172.00" font-size="3.3" text-anchor="end" font-weight="bold" fill="#222" >0</text>
<line x1="475.60" y1="171.30" x2="476.50" y2="171.30" stroke="#777" stroke-width="0.4" />
<text x="475.30" y="164.82" font-size="3.3" text-anchor="end" font-weight="bold" fill="#222" >20</text>
<line x1="475.60" y1="164.12" x2="476.50" y2="164.12" stroke="#777" stroke-width="0.4" />
<text x="475.30" y="157.64" font-size="3.3" text-anchor="end" font-weight="bold" fill="#222" >40</text>
<line x1="475.60" y1="156.94" x2="476.50" y2="156.94" stroke="#777" stroke-width="0.4" />
<text x="475.30" y="150.46" font-size="3.3" text-anchor="end" font-weight="bold" fill="#222" >60</text>
<line x1="475.60" y1="149.76" x2="476.50" y2="149.76" stroke="#777" stroke-width="0.4" />
<text x="475.30" y="143.28" font-size="3.3" text-anchor="end" font-weight="bold" fill="#222" >80</text>
<line x1="475.60" y1="142.58" x2="476.50" y2="142.58" stroke="#777" stroke-width="0.4" />
<text x="475.30" y="136.10" font-size="3.3" text-anchor="end" font-weight="bold" fill="#222" >100</text>
<line x1="475.60" y1="135.40" x2="476.50" y2="135.40" stroke="#777" stroke-width="0.4" />
<text x="477.30" y="176.90" font-size="3.3" text-anchor="middle" font-weight="bold" fill="#222" >10⁰</text>
<text x="486.80" y="176.90" font-size="3.3" text-anchor="middle" font-weight="bold" fill="#222" >10¹</text>
<text x="496.30" y="176.90" font-size="3.3" text-anchor="middle" font-weight="bold" fill="#222" >10²</text>
<text x="505.80" y="176.90" font-size="3.3" text-anchor="middle" font-weight="bold" fill="#222" >10³</text>
<text x="515.30" y="176.90" font-size="3.3" text-anchor="middle" font-weight="bold" fill="#222" >10⁴</text>
<text x="477.10" y="130.00" font-size="6.4" text-anchor="start" font-weight="normal" fill="#222" stroke="#222" stroke-width="0.18" letter-spacing="0.15">neutrophils</text>
<rect x="332.50" y="188.20" width="39.00" height="39.30" fill="#fff" stroke="#c4c4c4" stroke-width="0.7"/>
<path d="M332.50,227.10 L332.5,227.1 342.5,227.1 342.9,227.0 343.3,226.8 343.7,226.3 344.1,225.4 344.5,223.6 344.9,220.6 345.3,216.1 345.7,210.3 346.1,203.7 346.5,197.4 346.9,192.9 347.3,191.2 347.7,194.0 348.1,201.0 348.5,209.6 348.9,217.1 349.3,222.2 349.7,225.1 350.1,226.4 350.5,226.9 350.9,227.0 351.3,227.1 371.3,227.1 L371.50,227.10 Z" fill="#dadada" stroke="#8c8c8c" stroke-width="0.55" stroke-linejoin="round"/>
<path d="M332.5,227.1 349.3,227.1 349.7,227.0 350.1,226.9 350.5,226.4 350.9,225.3 351.3,223.1 351.7,219.0 352.1,212.9 352.5,205.3 352.9,197.8 353.3,192.5 353.7,191.3 354.1,194.2 354.5,200.0 354.9,207.1 355.3,213.9 355.7,219.3 356.1,223.0 356.5,225.2 356.9,226.3 357.3,226.8 357.7,227.0 358.1,227.1 371.3,227.1" fill="none" stroke="#111" stroke-width="0.9" stroke-linejoin="round"/>
<line x1="332.50" y1="188.20" x2="332.50" y2="227.50" stroke="#999" stroke-width="0.6" />
<line x1="332.00" y1="227.50" x2="371.50" y2="227.50" stroke="#888" stroke-width="0.6" />
<text x="331.30" y="227.80" font-size="3.3" text-anchor="end" font-weight="bold" fill="#222" >0</text>
<line x1="331.60" y1="227.10" x2="332.50" y2="227.10" stroke="#777" stroke-width="0.4" />
<text x="331.30" y="220.62" font-size="3.3" text-anchor="end" font-weight="bold" fill="#222" >20</text>
<line x1="331.60" y1="219.92" x2="332.50" y2="219.92" stroke="#777" stroke-width="0.4" />
<text x="331.30" y="213.44" font-size="3.3" text-anchor="end" font-weight="bold" fill="#222" >40</text>
<line x1="331.60" y1="212.74" x2="332.50" y2="212.74" stroke="#777" stroke-width="0.4" />
<text x="331.30" y="206.26" font-size="3.3" text-anchor="end" font-weight="bold" fill="#222" >60</text>
<line x1="331.60" y1="205.56" x2="332.50" y2="205.56" stroke="#777" stroke-width="0.4" />
<text x="331.30" y="199.08" font-size="3.3" text-anchor="end" font-weight="bold" fill="#222" >80</text>
<line x1="331.60" y1="198.38" x2="332.50" y2="198.38" stroke="#777" stroke-width="0.4" />
<text x="331.30" y="191.90" font-size="3.3" text-anchor="end" font-weight="bold" fill="#222" >100</text>
<line x1="331.60" y1="191.20" x2="332.50" y2="191.20" stroke="#777" stroke-width="0.4" />
<text x="333.30" y="232.70" font-size="3.3" text-anchor="middle" font-weight="bold" fill="#222" >10⁰</text>
<text x="342.80" y="232.70" font-size="3.3" text-anchor="middle" font-weight="bold" fill="#222" >10¹</text>
<text x="352.30" y="232.70" font-size="3.3" text-anchor="middle" font-weight="bold" fill="#222" >10²</text>
<text x="361.80" y="232.70" font-size="3.3" text-anchor="middle" font-weight="bold" fill="#222" >10³</text>
<text x="371.30" y="232.70" font-size="3.3" text-anchor="middle" font-weight="bold" fill="#222" >10⁴</text>
<text x="333.10" y="185.90" font-size="6.4" text-anchor="start" font-weight="normal" fill="#222" stroke="#222" stroke-width="0.18" letter-spacing="0.15">eosinophils</text>
<rect x="381.00" y="188.20" width="39.00" height="39.30" fill="#fff" stroke="#c4c4c4" stroke-width="0.7"/>
<path d="M381.00,227.10 L381.0,226.4 381.4,226.2 381.8,225.7 382.2,225.1 382.6,224.3 383.0,223.5 383.4,222.4 383.8,220.8 384.2,219.0 384.6,217.0 385.0,215.0 385.4,213.2 385.8,211.4 386.2,209.5 386.6,207.4 387.0,205.5 387.4,203.8 387.8,202.6 388.2,202.0 388.6,202.5 389.0,204.0 389.4,205.3 389.8,198.4 390.2,198.4 390.6,210.7 391.0,216.4 391.4,221.0 391.8,224.4 392.2,226.4 392.6,227.1 419.8,227.1 L420.00,227.10 Z" fill="#dadada" stroke="#8c8c8c" stroke-width="0.55" stroke-linejoin="round"/>
<path d="M381.0,225.3 382.2,225.3 382.6,225.2 383.0,225.2 383.4,225.1 383.8,225.1 384.2,225.0 384.6,224.9 385.0,224.8 385.4,224.7 385.8,224.6 386.2,224.5 386.6,224.4 387.0,224.2 387.4,224.0 387.8,223.6 388.2,223.1 388.6,222.5 389.0,221.8 389.4,221.0 389.8,220.3 390.2,219.5 390.6,218.8 391.0,217.8 391.4,216.7 391.8,214.8 392.2,211.7 392.6,207.9 393.0,203.9 393.4,200.6 393.8,198.4 394.2,197.4 394.6,196.2 395.0,193.8 395.4,191.6 395.8,191.6 396.2,194.2 396.6,197.4 397.0,201.6 397.4,206.6 397.8,211.0 398.2,214.2 398.6,217.0 399.0,219.4 399.4,221.5 399.8,223.0 400.2,223.9 400.6,224.7 401.0,225.3 401.4,225.8 401.8,226.2 402.2,226.4 402.6,226.4 403.0,226.5 403.8,226.5 404.2,226.6 405.0,226.6 405.4,226.7 406.6,226.7 407.0,226.8 408.2,226.8 408.6,226.9 410.6,226.9 411.0,227.0 413.8,227.0 414.2,227.1 419.8,227.1" fill="none" stroke="#111" stroke-width="0.9" stroke-linejoin="round"/>
<line x1="381.00" y1="188.20" x2="381.00" y2="227.50" stroke="#999" stroke-width="0.6" />
<line x1="380.50" y1="227.50" x2="420.00" y2="227.50" stroke="#888" stroke-width="0.6" />
<text x="379.80" y="227.80" font-size="3.3" text-anchor="end" font-weight="bold" fill="#222" >0</text>
<line x1="380.10" y1="227.10" x2="381.00" y2="227.10" stroke="#777" stroke-width="0.4" />
<text x="379.80" y="220.62" font-size="3.3" text-anchor="end" font-weight="bold" fill="#222" >20</text>
<line x1="380.10" y1="219.92" x2="381.00" y2="219.92" stroke="#777" stroke-width="0.4" />
<text x="379.80" y="213.44" font-size="3.3" text-anchor="end" font-weight="bold" fill="#222" >40</text>
<line x1="380.10" y1="212.74" x2="381.00" y2="212.74" stroke="#777" stroke-width="0.4" />
<text x="379.80" y="206.26" font-size="3.3" text-anchor="end" font-weight="bold" fill="#222" >60</text>
<line x1="380.10" y1="205.56" x2="381.00" y2="205.56" stroke="#777" stroke-width="0.4" />
<text x="379.80" y="199.08" font-size="3.3" text-anchor="end" font-weight="bold" fill="#222" >80</text>
<line x1="380.10" y1="198.38" x2="381.00" y2="198.38" stroke="#777" stroke-width="0.4" />
<text x="379.80" y="191.90" font-size="3.3" text-anchor="end" font-weight="bold" fill="#222" >100</text>
<line x1="380.10" y1="191.20" x2="381.00" y2="191.20" stroke="#777" stroke-width="0.4" />
<text x="381.80" y="232.70" font-size="3.3" text-anchor="middle" font-weight="bold" fill="#222" >10⁰</text>
<text x="391.30" y="232.70" font-size="3.3" text-anchor="middle" font-weight="bold" fill="#222" >10¹</text>
<text x="400.80" y="232.70" font-size="3.3" text-anchor="middle" font-weight="bold" fill="#222" >10²</text>
<text x="410.30" y="232.70" font-size="3.3" text-anchor="middle" font-weight="bold" fill="#222" >10³</text>
<text x="419.80" y="232.70" font-size="3.3" text-anchor="middle" font-weight="bold" fill="#222" >10⁴</text>
<text x="381.60" y="185.90" font-size="6.4" text-anchor="start" font-weight="normal" fill="#222" stroke="#222" stroke-width="0.18" letter-spacing="0.15">basophils</text>
<rect x="429.00" y="188.20" width="39.00" height="39.30" fill="#fff" stroke="#c4c4c4" stroke-width="0.7"/>
<path d="M429.00,227.10 L429.0,219.9 429.4,219.2 429.8,218.3 430.2,217.4 430.6,216.5 431.0,215.5 431.4,214.4 431.8,213.3 432.2,212.1 432.6,210.9 433.0,209.5 433.4,208.0 433.8,206.5 434.2,204.9 434.6,203.4 435.0,202.0 435.4,200.4 435.8,198.6 436.2,196.8 436.6,195.0 437.0,193.4 437.4,192.2 437.8,191.4 438.2,191.4 438.6,194.7 439.0,200.8 439.4,207.6 439.8,212.7 440.2,216.3 440.6,219.6 441.0,222.6 441.4,225.1 441.8,227.1 467.8,227.1 L468.00,227.10 Z" fill="#dadada" stroke="#8c8c8c" stroke-width="0.55" stroke-linejoin="round"/>
<path d="M429.0,227.1 448.2,227.1 448.6,227.0 449.0,226.8 449.4,226.5 449.8,225.9 450.2,224.7 450.6,222.9 451.0,220.0 451.4,216.0 451.8,211.0 452.2,205.3 452.6,199.7 453.0,194.9 453.4,191.9 453.8,191.3 454.2,193.4 454.6,197.9 455.0,203.8 455.4,209.9 455.8,215.4 456.2,219.8 456.6,222.9 457.0,224.9 457.4,226.0 457.8,226.6 458.2,226.9 458.6,227.0 459.0,227.1 467.8,227.1" fill="none" stroke="#111" stroke-width="0.9" stroke-linejoin="round"/>
<line x1="429.00" y1="188.20" x2="429.00" y2="227.50" stroke="#999" stroke-width="0.6" />
<line x1="428.50" y1="227.50" x2="468.00" y2="227.50" stroke="#888" stroke-width="0.6" />
<text x="427.80" y="227.80" font-size="3.3" text-anchor="end" font-weight="bold" fill="#222" >0</text>
<line x1="428.10" y1="227.10" x2="429.00" y2="227.10" stroke="#777" stroke-width="0.4" />
<text x="427.80" y="220.62" font-size="3.3" text-anchor="end" font-weight="bold" fill="#222" >20</text>
<line x1="428.10" y1="219.92" x2="429.00" y2="219.92" stroke="#777" stroke-width="0.4" />
<text x="427.80" y="213.44" font-size="3.3" text-anchor="end" font-weight="bold" fill="#222" >40</text>
<line x1="428.10" y1="212.74" x2="429.00" y2="212.74" stroke="#777" stroke-width="0.4" />
<text x="427.80" y="206.26" font-size="3.3" text-anchor="end" font-weight="bold" fill="#222" >60</text>
<line x1="428.10" y1="205.56" x2="429.00" y2="205.56" stroke="#777" stroke-width="0.4" />
<text x="427.80" y="199.08" font-size="3.3" text-anchor="end" font-weight="bold" fill="#222" >80</text>
<line x1="428.10" y1="198.38" x2="429.00" y2="198.38" stroke="#777" stroke-width="0.4" />
<text x="427.80" y="191.90" font-size="3.3" text-anchor="end" font-weight="bold" fill="#222" >100</text>
<line x1="428.10" y1="191.20" x2="429.00" y2="191.20" stroke="#777" stroke-width="0.4" />
<text x="429.80" y="232.70" font-size="3.3" text-anchor="middle" font-weight="bold" fill="#222" >10⁰</text>
<text x="439.30" y="232.70" font-size="3.3" text-anchor="middle" font-weight="bold" fill="#222" >10¹</text>
<text x="448.80" y="232.70" font-size="3.3" text-anchor="middle" font-weight="bold" fill="#222" >10²</text>
<text x="458.30" y="232.70" font-size="3.3" text-anchor="middle" font-weight="bold" fill="#222" >10³</text>
<text x="467.80" y="232.70" font-size="3.3" text-anchor="middle" font-weight="bold" fill="#222" >10⁴</text>
<text x="429.60" y="185.90" font-size="6.4" text-anchor="start" font-weight="normal" fill="#222" stroke="#222" stroke-width="0.18" letter-spacing="0.15">monocytes</text>
<text x="0" y="0" font-size="7.0" text-anchor="middle" fill="#222" stroke="#222" stroke-width="0.12" transform="translate(322.50,151.50) rotate(-90)">% of max</text>
<text x="0" y="0" font-size="7.0" text-anchor="middle" fill="#222" stroke="#222" stroke-width="0.12" transform="translate(322.50,207.50) rotate(-90)">% of max</text>
<line x1="332.30" y1="238.40" x2="393.00" y2="238.40" stroke="#222" stroke-width="1.0" />
<line x1="453.80" y1="238.40" x2="516.00" y2="238.40" stroke="#222" stroke-width="1.0" />
<path d="M510.80,235.40 L516.00,238.40 L510.80,241.40" fill="none" stroke="#222" stroke-width="0.9"/>
<text x="423.40" y="240.90" font-size="7.2" text-anchor="middle" font-weight="normal" fill="#222" stroke="#222" stroke-width="0.15">hFcγRIIA</text>
<text x="3.60" y="258.30" font-size="11.8" text-anchor="start" font-weight="bold" fill="#000" >E</text>
<line x1="26.30" y1="258.60" x2="26.30" y2="326.60" stroke="#222" stroke-width="0.9" />
<line x1="24.80" y1="258.60" x2="26.30" y2="258.60" stroke="#222" stroke-width="0.7" />
<text x="24.10" y="260.60" font-size="4.9" text-anchor="end" font-weight="normal" fill="#111" stroke="#111" stroke-width="0.15">2</text>
<line x1="24.80" y1="272.20" x2="26.30" y2="272.20" stroke="#222" stroke-width="0.7" />
<text x="24.10" y="274.20" font-size="4.9" text-anchor="end" font-weight="normal" fill="#111" stroke="#111" stroke-width="0.15">0</text>
<line x1="24.80" y1="285.80" x2="26.30" y2="285.80" stroke="#222" stroke-width="0.7" />
<text x="24.10" y="287.80" font-size="4.9" text-anchor="end" font-weight="normal" fill="#111" stroke="#111" stroke-width="0.15">-2</text>
<line x1="24.80" y1="299.40" x2="26.30" y2="299.40" stroke="#222" stroke-width="0.7" />
<text x="24.10" y="301.40" font-size="4.9" text-anchor="end" font-weight="normal" fill="#111" stroke="#111" stroke-width="0.15">-4</text>
<line x1="24.80" y1="313.00" x2="26.30" y2="313.00" stroke="#222" stroke-width="0.7" />
<text x="24.10" y="315.00" font-size="4.9" text-anchor="end" font-weight="normal" fill="#111" stroke="#111" stroke-width="0.15">-6</text>
<line x1="24.80" y1="326.60" x2="26.30" y2="326.60" stroke="#222" stroke-width="0.7" />
<text x="24.10" y="328.60" font-size="4.9" text-anchor="end" font-weight="normal" fill="#111" stroke="#111" stroke-width="0.15">-8</text>
<line x1="26.30" y1="272.20" x2="129.80" y2="272.20" stroke="#111" stroke-width="1.2" />
<line x1="48.80" y1="272.20" x2="48.80" y2="270.90" stroke="#222" stroke-width="0.6" />
<text x="48.80" y="263.90" font-size="4.9" text-anchor="middle" font-weight="normal" fill="#111" stroke="#111" stroke-width="0.15">20</text>
<line x1="71.30" y1="272.20" x2="71.30" y2="270.90" stroke="#222" stroke-width="0.6" />
<text x="71.30" y="263.90" font-size="4.9" text-anchor="middle" font-weight="normal" fill="#111" stroke="#111" stroke-width="0.15">40</text>
<line x1="93.80" y1="272.20" x2="93.80" y2="270.90" stroke="#222" stroke-width="0.6" />
<text x="93.80" y="263.90" font-size="4.9" text-anchor="middle" font-weight="normal" fill="#111" stroke="#111" stroke-width="0.15">60</text>
<line x1="116.30" y1="272.20" x2="116.30" y2="270.90" stroke="#222" stroke-width="0.6" />
<text x="116.30" y="263.90" font-size="4.9" text-anchor="middle" font-weight="normal" fill="#111" stroke="#111" stroke-width="0.15">80</text>
<text x="64.33" y="258.90" font-size="7.2" text-anchor="start" font-weight="normal" fill="#222" stroke="#222" stroke-width="0.2">time [min]</text>
<text x="0" y="0" font-size="7.4" text-anchor="middle" fill="#222" stroke="#222" stroke-width="0.1" transform="translate(15.00,291.20) rotate(-90)">Δ temperature [°C]</text>
<path d="M26.30,272.20 L37.55,272.20 L48.80,272.20 L60.05,274.58 L71.30,275.60 L93.80,272.88 L127.55,272.20" fill="none" stroke="#777" stroke-width="1.0"/>
<path d="M37.55,270.22 L39.50,273.82 L35.60,273.82 Z" fill="#888" stroke="#000" stroke-width="0.85" stroke-linejoin="miter"/>
<path d="M48.80,270.22 L50.75,273.82 L46.85,273.82 Z" fill="#888" stroke="#000" stroke-width="0.85" stroke-linejoin="miter"/>
<line x1="60.05" y1="275.94" x2="60.05" y2="273.22" stroke="#777" stroke-width="0.8" />
<line x1="58.15" y1="275.94" x2="61.95" y2="275.94" stroke="#777" stroke-width="0.8" />
<line x1="58.15" y1="273.22" x2="61.95" y2="273.22" stroke="#777" stroke-width="0.8" />
<path d="M60.05,272.60 L62.00,276.20 L58.10,276.20 Z" fill="#888" stroke="#000" stroke-width="0.85" stroke-linejoin="miter"/>
<line x1="71.30" y1="277.30" x2="71.30" y2="273.90" stroke="#777" stroke-width="0.8" />
<line x1="69.40" y1="277.30" x2="73.20" y2="277.30" stroke="#777" stroke-width="0.8" />
<line x1="69.40" y1="273.90" x2="73.20" y2="273.90" stroke="#777" stroke-width="0.8" />
<path d="M71.30,273.62 L73.25,277.22 L69.35,277.22 Z" fill="#888" stroke="#000" stroke-width="0.85" stroke-linejoin="miter"/>
<line x1="93.80" y1="274.92" x2="93.80" y2="270.84" stroke="#777" stroke-width="0.8" />
<line x1="91.90" y1="274.92" x2="95.70" y2="274.92" stroke="#777" stroke-width="0.8" />
<line x1="91.90" y1="270.84" x2="95.70" y2="270.84" stroke="#777" stroke-width="0.8" />
<path d="M93.80,270.90 L95.75,274.50 L91.85,274.50 Z" fill="#888" stroke="#000" stroke-width="0.85" stroke-linejoin="miter"/>
<path d="M127.55,270.22 L129.50,273.82 L125.60,273.82 Z" fill="#888" stroke="#000" stroke-width="0.85" stroke-linejoin="miter"/>
<path d="M26.30,272.20 L37.55,284.10 L48.80,298.72 L60.05,314.36 L71.30,319.80" fill="none" stroke="#111" stroke-width="1.0"/>
<path d="M37.55,282.12 L39.50,285.72 L35.60,285.72 Z" fill="#111" stroke="#000" stroke-width="0.85" stroke-linejoin="miter"/>
<line x1="48.80" y1="302.12" x2="48.80" y2="295.32" stroke="#111" stroke-width="0.8" />
<line x1="46.90" y1="302.12" x2="50.70" y2="302.12" stroke="#111" stroke-width="0.8" />
<line x1="46.90" y1="295.32" x2="50.70" y2="295.32" stroke="#111" stroke-width="0.8" />
<path d="M48.80,296.74 L50.75,300.34 L46.85,300.34 Z" fill="#111" stroke="#000" stroke-width="0.85" stroke-linejoin="miter"/>
<line x1="60.05" y1="317.76" x2="60.05" y2="310.96" stroke="#111" stroke-width="0.8" />
<line x1="58.15" y1="317.76" x2="61.95" y2="317.76" stroke="#111" stroke-width="0.8" />
<line x1="58.15" y1="310.96" x2="61.95" y2="310.96" stroke="#111" stroke-width="0.8" />
<path d="M60.05,312.38 L62.00,315.98 L58.10,315.98 Z" fill="#111" stroke="#000" stroke-width="0.85" stroke-linejoin="miter"/>
<line x1="71.30" y1="321.84" x2="71.30" y2="317.76" stroke="#111" stroke-width="0.8" />
<line x1="69.40" y1="321.84" x2="73.20" y2="321.84" stroke="#111" stroke-width="0.8" />
<line x1="69.40" y1="317.76" x2="73.20" y2="317.76" stroke="#111" stroke-width="0.8" />
<path d="M71.30,317.82 L73.25,321.42 L69.35,321.42 Z" fill="#111" stroke="#000" stroke-width="0.85" stroke-linejoin="miter"/>
<path d="M26.30,270.22 L28.25,273.82 L24.35,273.82 Z" fill="#111" stroke="#000" stroke-width="0.85" stroke-linejoin="miter"/>
<path d="M32.50,329.35 L34.90,334.35 L30.10,334.35 Z" fill="#555" stroke="#000" stroke-width="0.6" stroke-linejoin="miter"/>
<text x="35.60" y="334.60" font-size="7.0" text-anchor="start" font-weight="normal" fill="#222" stroke="#222" stroke-width="0.12">FcRγ<tspan font-size="4.0" dy="-2.7">-/-</tspan></text>
<path d="M69.80,329.35 L72.20,334.35 L67.40,334.35 Z" fill="#111" stroke="#000" stroke-width="0.6" stroke-linejoin="miter"/>
<text x="74.20" y="334.60" font-size="7.0" text-anchor="start" font-weight="normal" fill="#222" stroke="#222" stroke-width="0.12">FcRγ<tspan font-size="4.0" dy="-2.7">-/-</tspan><tspan dy="2.7">IIA</tspan></text>
<line x1="26.20" y1="341.50" x2="26.20" y2="409.60" stroke="#222" stroke-width="0.9" />
<line x1="24.70" y1="409.60" x2="26.20" y2="409.60" stroke="#222" stroke-width="0.7" />
<text x="24.00" y="411.40" font-size="4.9" text-anchor="end" font-weight="normal" fill="#111" stroke="#111" stroke-width="0.15">0</text>
<line x1="24.70" y1="395.98" x2="26.20" y2="395.98" stroke="#222" stroke-width="0.7" />
<text x="24.00" y="397.78" font-size="4.9" text-anchor="end" font-weight="normal" fill="#111" stroke="#111" stroke-width="0.15">20</text>
<line x1="24.70" y1="382.36" x2="26.20" y2="382.36" stroke="#222" stroke-width="0.7" />
<text x="24.00" y="384.16" font-size="4.9" text-anchor="end" font-weight="normal" fill="#111" stroke="#111" stroke-width="0.15">40</text>
<line x1="24.70" y1="368.74" x2="26.20" y2="368.74" stroke="#222" stroke-width="0.7" />
<text x="24.00" y="370.54" font-size="4.9" text-anchor="end" font-weight="normal" fill="#111" stroke="#111" stroke-width="0.15">60</text>
<line x1="24.70" y1="355.12" x2="26.20" y2="355.12" stroke="#222" stroke-width="0.7" />
<text x="24.00" y="356.92" font-size="4.9" text-anchor="end" font-weight="normal" fill="#111" stroke="#111" stroke-width="0.15">80</text>
<line x1="24.70" y1="341.50" x2="26.20" y2="341.50" stroke="#222" stroke-width="0.7" />
<text x="24.00" y="343.30" font-size="4.9" text-anchor="end" font-weight="normal" fill="#111" stroke="#111" stroke-width="0.15">100</text>
<line x1="26.20" y1="409.60" x2="130.82" y2="409.60" stroke="#111" stroke-width="1.0" />
<line x1="26.20" y1="409.60" x2="26.20" y2="411.10" stroke="#222" stroke-width="0.6" />
<text x="26.20" y="416.70" font-size="4.9" text-anchor="middle" font-weight="normal" fill="#111" stroke="#111" stroke-width="0.15">0</text>
<line x1="48.70" y1="409.60" x2="48.70" y2="411.10" stroke="#222" stroke-width="0.6" />
<text x="48.70" y="416.70" font-size="4.9" text-anchor="middle" font-weight="normal" fill="#111" stroke="#111" stroke-width="0.15">20</text>
<line x1="71.20" y1="409.60" x2="71.20" y2="411.10" stroke="#222" stroke-width="0.6" />
<text x="71.20" y="416.70" font-size="4.9" text-anchor="middle" font-weight="normal" fill="#111" stroke="#111" stroke-width="0.15">40</text>
<line x1="93.70" y1="409.60" x2="93.70" y2="411.10" stroke="#222" stroke-width="0.6" />
<text x="93.70" y="416.70" font-size="4.9" text-anchor="middle" font-weight="normal" fill="#111" stroke="#111" stroke-width="0.15">60</text>
<line x1="116.20" y1="409.60" x2="116.20" y2="411.10" stroke="#222" stroke-width="0.6" />
<text x="116.20" y="416.70" font-size="4.9" text-anchor="middle" font-weight="normal" fill="#111" stroke="#111" stroke-width="0.15">80</text>
<text x="63.33" y="422.50" font-size="7.2" text-anchor="start" font-weight="normal" fill="#222" stroke="#222" stroke-width="0.2">time [min]</text>
<text x="0" y="0" font-size="7.0" text-anchor="middle" fill="#222" stroke="#222" stroke-width="0.2" transform="translate(14.80,377.30) rotate(-90)">survival [%]</text>
<path d="M26.20,341.50 L125.20,341.50" fill="none" stroke="#aaa" stroke-width="1.3"/>
<path d="M26.20,341.50 L46.45,341.50 L46.45,368.74 L54.33,368.74 L54.33,382.36 L87.51,382.36 L87.51,395.98 L90.33,395.98 L90.33,409.60" fill="none" stroke="#111" stroke-width="1.0"/>
<path d="M46.45,353.14 L48.40,356.74 L44.50,356.74 Z" fill="#111" stroke="#000" stroke-width="0.85" stroke-linejoin="miter"/>
<path d="M47.58,366.76 L49.53,370.36 L45.62,370.36 Z" fill="#111" stroke="#000" stroke-width="0.85" stroke-linejoin="miter"/>
<path d="M54.33,380.38 L56.28,383.98 L52.38,383.98 Z" fill="#111" stroke="#000" stroke-width="0.85" stroke-linejoin="miter"/>
<path d="M87.51,394.00 L89.46,397.60 L85.56,397.60 Z" fill="#111" stroke="#000" stroke-width="0.85" stroke-linejoin="miter"/>
<path d="M90.33,407.62 L92.28,411.22 L88.38,411.22 Z" fill="#111" stroke="#000" stroke-width="0.85" stroke-linejoin="miter"/>
<path d="M127.45,340.12 L129.40,343.72 L125.50,343.72 Z" fill="#777" stroke="#000" stroke-width="0.85" stroke-linejoin="miter"/>
<path d="M113.85,352.20 L114.83,354.55 L117.37,354.76 L115.43,356.41 L116.02,358.89 L113.85,357.56 L111.68,358.89 L112.27,356.41 L110.33,354.76 L112.87,354.55 Z" fill="#111"/>
<path d="M121.50,352.20 L122.48,354.55 L125.02,354.76 L123.08,356.41 L123.67,358.89 L121.50,357.56 L119.33,358.89 L119.92,356.41 L117.98,354.76 L120.52,354.55 Z" fill="#111"/>
<path d="M128.45,352.20 L129.43,354.55 L131.97,354.76 L130.03,356.41 L130.62,358.89 L128.45,357.56 L126.28,358.89 L126.87,356.41 L124.93,354.76 L127.47,354.55 Z" fill="#111"/>
<text x="163.80" y="258.50" font-size="11.8" text-anchor="start" font-weight="bold" fill="#000" >F</text>
<line x1="192.10" y1="258.60" x2="192.10" y2="326.60" stroke="#222" stroke-width="0.9" />
<line x1="190.60" y1="258.60" x2="192.10" y2="258.60" stroke="#222" stroke-width="0.7" />
<text x="189.90" y="260.60" font-size="4.9" text-anchor="end" font-weight="normal" fill="#111" stroke="#111" stroke-width="0.15">2</text>
<line x1="190.60" y1="272.20" x2="192.10" y2="272.20" stroke="#222" stroke-width="0.7" />
<text x="189.90" y="274.20" font-size="4.9" text-anchor="end" font-weight="normal" fill="#111" stroke="#111" stroke-width="0.15">0</text>
<line x1="190.60" y1="285.80" x2="192.10" y2="285.80" stroke="#222" stroke-width="0.7" />
<text x="189.90" y="287.80" font-size="4.9" text-anchor="end" font-weight="normal" fill="#111" stroke="#111" stroke-width="0.15">-2</text>
<line x1="190.60" y1="299.40" x2="192.10" y2="299.40" stroke="#222" stroke-width="0.7" />
<text x="189.90" y="301.40" font-size="4.9" text-anchor="end" font-weight="normal" fill="#111" stroke="#111" stroke-width="0.15">-4</text>
<line x1="190.60" y1="313.00" x2="192.10" y2="313.00" stroke="#222" stroke-width="0.7" />
<text x="189.90" y="315.00" font-size="4.9" text-anchor="end" font-weight="normal" fill="#111" stroke="#111" stroke-width="0.15">-6</text>
<line x1="190.60" y1="326.60" x2="192.10" y2="326.60" stroke="#222" stroke-width="0.7" />
<text x="189.90" y="328.60" font-size="4.9" text-anchor="end" font-weight="normal" fill="#111" stroke="#111" stroke-width="0.15">-8</text>
<line x1="192.10" y1="272.20" x2="295.60" y2="272.20" stroke="#111" stroke-width="1.2" />
<line x1="214.60" y1="272.20" x2="214.60" y2="270.90" stroke="#222" stroke-width="0.6" />
<text x="214.60" y="263.90" font-size="4.9" text-anchor="middle" font-weight="normal" fill="#111" stroke="#111" stroke-width="0.15">20</text>
<line x1="237.10" y1="272.20" x2="237.10" y2="270.90" stroke="#222" stroke-width="0.6" />
<text x="237.10" y="263.90" font-size="4.9" text-anchor="middle" font-weight="normal" fill="#111" stroke="#111" stroke-width="0.15">40</text>
<line x1="259.60" y1="272.20" x2="259.60" y2="270.90" stroke="#222" stroke-width="0.6" />
<text x="259.60" y="263.90" font-size="4.9" text-anchor="middle" font-weight="normal" fill="#111" stroke="#111" stroke-width="0.15">60</text>
<line x1="282.10" y1="272.20" x2="282.10" y2="270.90" stroke="#222" stroke-width="0.6" />
<text x="282.10" y="263.90" font-size="4.9" text-anchor="middle" font-weight="normal" fill="#111" stroke="#111" stroke-width="0.15">80</text>
<text x="230.12" y="258.90" font-size="7.2" text-anchor="start" font-weight="normal" fill="#222" stroke="#222" stroke-width="0.2">time [min]</text>
<text x="0" y="0" font-size="7.4" text-anchor="middle" fill="#222" stroke="#222" stroke-width="0.1" transform="translate(180.80,291.20) rotate(-90)">Δ temperature [°C]</text>
<path d="M192.10,272.20 L203.35,267.78 L214.60,268.53 L225.85,268.39 L237.10,268.53 L259.60,269.14 L293.35,268.80" fill="none" stroke="#444" stroke-width="1.0"/>
<path d="M203.35,265.80 L205.30,269.40 L201.40,269.40 Z" fill="#777" stroke="#000" stroke-width="0.85" stroke-linejoin="miter"/>
<line x1="214.60" y1="269.89" x2="214.60" y2="267.17" stroke="#444" stroke-width="0.8" />
<line x1="212.70" y1="269.89" x2="216.50" y2="269.89" stroke="#444" stroke-width="0.8" />
<line x1="212.70" y1="267.17" x2="216.50" y2="267.17" stroke="#444" stroke-width="0.8" />
<path d="M214.60,266.55 L216.55,270.15 L212.65,270.15 Z" fill="#777" stroke="#000" stroke-width="0.85" stroke-linejoin="miter"/>
<path d="M225.85,266.41 L227.80,270.01 L223.90,270.01 Z" fill="#777" stroke="#000" stroke-width="0.85" stroke-linejoin="miter"/>
<line x1="237.10" y1="269.89" x2="237.10" y2="267.17" stroke="#444" stroke-width="0.8" />
<line x1="235.20" y1="269.89" x2="239.00" y2="269.89" stroke="#444" stroke-width="0.8" />
<line x1="235.20" y1="267.17" x2="239.00" y2="267.17" stroke="#444" stroke-width="0.8" />
<path d="M237.10,266.55 L239.05,270.15 L235.15,270.15 Z" fill="#777" stroke="#000" stroke-width="0.85" stroke-linejoin="miter"/>
<line x1="259.60" y1="270.50" x2="259.60" y2="267.78" stroke="#444" stroke-width="0.8" />
<line x1="257.70" y1="270.50" x2="261.50" y2="270.50" stroke="#444" stroke-width="0.8" />
<line x1="257.70" y1="267.78" x2="261.50" y2="267.78" stroke="#444" stroke-width="0.8" />
<path d="M259.60,267.16 L261.55,270.76 L257.65,270.76 Z" fill="#777" stroke="#000" stroke-width="0.85" stroke-linejoin="miter"/>
<path d="M293.35,266.82 L295.30,270.42 L291.40,270.42 Z" fill="#777" stroke="#000" stroke-width="0.85" stroke-linejoin="miter"/>
<path d="M192.10,272.20 L203.35,292.94" fill="none" stroke="#111" stroke-width="1.0"/>
<line x1="203.35" y1="294.64" x2="203.35" y2="291.24" stroke="#111" stroke-width="0.8" />
<line x1="201.45" y1="294.64" x2="205.25" y2="294.64" stroke="#111" stroke-width="0.8" />
<line x1="201.45" y1="291.24" x2="205.25" y2="291.24" stroke="#111" stroke-width="0.8" />
<path d="M203.35,290.96 L205.30,294.56 L201.40,294.56 Z" fill="#111" stroke="#000" stroke-width="0.85" stroke-linejoin="miter"/>
<path d="M192.10,270.22 L194.05,273.82 L190.15,273.82 Z" fill="#555" stroke="#000" stroke-width="0.85" stroke-linejoin="miter"/>
<path d="M198.50,329.35 L200.90,334.35 L196.10,334.35 Z" fill="#555" stroke="#000" stroke-width="0.6" stroke-linejoin="miter"/>
<text x="202.30" y="334.60" font-size="7.0" text-anchor="start" font-weight="normal" fill="#222" stroke="#222" stroke-width="0.12">FcRγ<tspan font-size="4.0" dy="-2.7">-/-</tspan></text>
<path d="M231.00,329.35 L233.40,334.35 L228.60,334.35 Z" fill="#111" stroke="#000" stroke-width="0.6" stroke-linejoin="miter"/>
<text x="235.00" y="334.60" font-size="7.0" text-anchor="start" font-weight="normal" fill="#222" stroke="#222" stroke-width="0.12">FcRγ<tspan font-size="4.0" dy="-2.7">-/-</tspan><tspan dy="2.7">IIA</tspan></text>
<line x1="191.90" y1="341.20" x2="191.90" y2="409.30" stroke="#222" stroke-width="0.9" />
<line x1="190.40" y1="409.30" x2="191.90" y2="409.30" stroke="#222" stroke-width="0.7" />
<text x="189.70" y="411.10" font-size="4.9" text-anchor="end" font-weight="normal" fill="#111" stroke="#111" stroke-width="0.15">0</text>
<line x1="190.40" y1="395.68" x2="191.90" y2="395.68" stroke="#222" stroke-width="0.7" />
<text x="189.70" y="397.48" font-size="4.9" text-anchor="end" font-weight="normal" fill="#111" stroke="#111" stroke-width="0.15">20</text>
<line x1="190.40" y1="382.06" x2="191.90" y2="382.06" stroke="#222" stroke-width="0.7" />
<text x="189.70" y="383.86" font-size="4.9" text-anchor="end" font-weight="normal" fill="#111" stroke="#111" stroke-width="0.15">40</text>
<line x1="190.40" y1="368.44" x2="191.90" y2="368.44" stroke="#222" stroke-width="0.7" />
<text x="189.70" y="370.24" font-size="4.9" text-anchor="end" font-weight="normal" fill="#111" stroke="#111" stroke-width="0.15">60</text>
<line x1="190.40" y1="354.82" x2="191.90" y2="354.82" stroke="#222" stroke-width="0.7" />
<text x="189.70" y="356.62" font-size="4.9" text-anchor="end" font-weight="normal" fill="#111" stroke="#111" stroke-width="0.15">80</text>
<line x1="190.40" y1="341.20" x2="191.90" y2="341.20" stroke="#222" stroke-width="0.7" />
<text x="189.70" y="343.00" font-size="4.9" text-anchor="end" font-weight="normal" fill="#111" stroke="#111" stroke-width="0.15">100</text>
<line x1="191.90" y1="409.30" x2="296.52" y2="409.30" stroke="#111" stroke-width="1.0" />
<line x1="191.90" y1="409.30" x2="191.90" y2="410.80" stroke="#222" stroke-width="0.6" />
<text x="191.90" y="416.40" font-size="4.9" text-anchor="middle" font-weight="normal" fill="#111" stroke="#111" stroke-width="0.15">0</text>
<line x1="214.40" y1="409.30" x2="214.40" y2="410.80" stroke="#222" stroke-width="0.6" />
<text x="214.40" y="416.40" font-size="4.9" text-anchor="middle" font-weight="normal" fill="#111" stroke="#111" stroke-width="0.15">20</text>
<line x1="236.90" y1="409.30" x2="236.90" y2="410.80" stroke="#222" stroke-width="0.6" />
<text x="236.90" y="416.40" font-size="4.9" text-anchor="middle" font-weight="normal" fill="#111" stroke="#111" stroke-width="0.15">40</text>
<line x1="259.40" y1="409.30" x2="259.40" y2="410.80" stroke="#222" stroke-width="0.6" />
<text x="259.40" y="416.40" font-size="4.9" text-anchor="middle" font-weight="normal" fill="#111" stroke="#111" stroke-width="0.15">60</text>
<line x1="281.90" y1="409.30" x2="281.90" y2="410.80" stroke="#222" stroke-width="0.6" />
<text x="281.90" y="416.40" font-size="4.9" text-anchor="middle" font-weight="normal" fill="#111" stroke="#111" stroke-width="0.15">80</text>
<text x="229.03" y="422.20" font-size="7.2" text-anchor="start" font-weight="normal" fill="#222" stroke="#222" stroke-width="0.2">time [min]</text>
<text x="0" y="0" font-size="7.0" text-anchor="middle" fill="#222" stroke="#222" stroke-width="0.2" transform="translate(180.50,377.30) rotate(-90)">survival [%]</text>
<path d="M191.90,341.20 L211.03,341.20 L211.03,354.82 L213.28,354.82 L213.28,382.06 L214.40,382.06 L214.40,409.30" fill="none" stroke="#222" stroke-width="1.0"/>
<path d="M191.90,341.20 L290.90,341.20" fill="none" stroke="#aaa" stroke-width="1.3"/>
<path d="M211.03,352.84 L212.97,356.44 L209.08,356.44 Z" fill="#111" stroke="#000" stroke-width="0.85" stroke-linejoin="miter"/>
<path d="M213.28,380.08 L215.22,383.68 L211.33,383.68 Z" fill="#111" stroke="#000" stroke-width="0.85" stroke-linejoin="miter"/>
<path d="M214.40,407.32 L216.35,410.92 L212.45,410.92 Z" fill="#111" stroke="#000" stroke-width="0.85" stroke-linejoin="miter"/>
<path d="M293.15,339.82 L295.10,343.42 L291.20,343.42 Z" fill="#777" stroke="#000" stroke-width="0.85" stroke-linejoin="miter"/>
<path d="M286.00,352.20 L286.98,354.55 L289.52,354.76 L287.58,356.41 L288.17,358.89 L286.00,357.56 L283.83,358.89 L284.42,356.41 L282.48,354.76 L285.02,354.55 Z" fill="#111"/>
<path d="M293.50,352.20 L294.48,354.55 L297.02,354.76 L295.08,356.41 L295.67,358.89 L293.50,357.56 L291.33,358.89 L291.92,356.41 L289.98,354.76 L292.52,354.55 Z" fill="#111"/>
<text x="310.50" y="259.40" font-size="11.8" text-anchor="start" font-weight="bold" fill="#000" >G</text>
<line x1="351.30" y1="258.60" x2="351.30" y2="326.60" stroke="#222" stroke-width="0.9" />
<line x1="349.80" y1="258.60" x2="351.30" y2="258.60" stroke="#222" stroke-width="0.7" />
<text x="349.10" y="260.60" font-size="4.9" text-anchor="end" font-weight="normal" fill="#111" stroke="#111" stroke-width="0.15">2</text>
<line x1="349.80" y1="272.20" x2="351.30" y2="272.20" stroke="#222" stroke-width="0.7" />
<text x="349.10" y="274.20" font-size="4.9" text-anchor="end" font-weight="normal" fill="#111" stroke="#111" stroke-width="0.15">0</text>
<line x1="349.80" y1="285.80" x2="351.30" y2="285.80" stroke="#222" stroke-width="0.7" />
<text x="349.10" y="287.80" font-size="4.9" text-anchor="end" font-weight="normal" fill="#111" stroke="#111" stroke-width="0.15">-2</text>
<line x1="349.80" y1="299.40" x2="351.30" y2="299.40" stroke="#222" stroke-width="0.7" />
<text x="349.10" y="301.40" font-size="4.9" text-anchor="end" font-weight="normal" fill="#111" stroke="#111" stroke-width="0.15">-4</text>
<line x1="349.80" y1="313.00" x2="351.30" y2="313.00" stroke="#222" stroke-width="0.7" />
<text x="349.10" y="315.00" font-size="4.9" text-anchor="end" font-weight="normal" fill="#111" stroke="#111" stroke-width="0.15">-6</text>
<line x1="349.80" y1="326.60" x2="351.30" y2="326.60" stroke="#222" stroke-width="0.7" />
<text x="349.10" y="328.60" font-size="4.9" text-anchor="end" font-weight="normal" fill="#111" stroke="#111" stroke-width="0.15">-8</text>
<line x1="351.30" y1="272.20" x2="454.80" y2="272.20" stroke="#111" stroke-width="1.2" />
<line x1="373.80" y1="272.20" x2="373.80" y2="270.90" stroke="#222" stroke-width="0.6" />
<text x="373.80" y="263.90" font-size="4.9" text-anchor="middle" font-weight="normal" fill="#111" stroke="#111" stroke-width="0.15">20</text>
<line x1="396.30" y1="272.20" x2="396.30" y2="270.90" stroke="#222" stroke-width="0.6" />
<text x="396.30" y="263.90" font-size="4.9" text-anchor="middle" font-weight="normal" fill="#111" stroke="#111" stroke-width="0.15">40</text>
<line x1="418.80" y1="272.20" x2="418.80" y2="270.90" stroke="#222" stroke-width="0.6" />
<text x="418.80" y="263.90" font-size="4.9" text-anchor="middle" font-weight="normal" fill="#111" stroke="#111" stroke-width="0.15">60</text>
<line x1="441.30" y1="272.20" x2="441.30" y2="270.90" stroke="#222" stroke-width="0.6" />
<text x="441.30" y="263.90" font-size="4.9" text-anchor="middle" font-weight="normal" fill="#111" stroke="#111" stroke-width="0.15">80</text>
<text x="384.49" y="258.90" font-size="7.2" text-anchor="start" font-weight="normal" fill="#222" stroke="#222" stroke-width="0.2">time [min]</text>
<text x="0" y="0" font-size="7.4" text-anchor="middle" fill="#222" stroke="#222" stroke-width="0.1" transform="translate(340.00,291.20) rotate(-90)">Δ temperature [°C]</text>
<path d="M351.30,272.20 L362.55,273.56 L373.80,276.96 L385.05,279.00 L396.30,278.32 L418.80,274.92 L452.55,274.24" fill="none" stroke="#333" stroke-width="0.9"/>
<path d="M362.55,271.58 L364.50,275.18 L360.60,275.18 Z" fill="#fff" stroke="#000" stroke-width="0.85" stroke-linejoin="miter"/>
<path d="M373.80,274.98 L375.75,278.58 L371.85,278.58 Z" fill="#fff" stroke="#000" stroke-width="0.85" stroke-linejoin="miter"/>
<line x1="385.05" y1="281.04" x2="385.05" y2="276.96" stroke="#333" stroke-width="0.8" />
<line x1="383.15" y1="281.04" x2="386.95" y2="281.04" stroke="#333" stroke-width="0.8" />
<line x1="383.15" y1="276.96" x2="386.95" y2="276.96" stroke="#333" stroke-width="0.8" />
<path d="M385.05,277.02 L387.00,280.62 L383.10,280.62 Z" fill="#fff" stroke="#000" stroke-width="0.85" stroke-linejoin="miter"/>
<line x1="396.30" y1="280.36" x2="396.30" y2="276.28" stroke="#333" stroke-width="0.8" />
<line x1="394.40" y1="280.36" x2="398.20" y2="280.36" stroke="#333" stroke-width="0.8" />
<line x1="394.40" y1="276.28" x2="398.20" y2="276.28" stroke="#333" stroke-width="0.8" />
<path d="M396.30,276.34 L398.25,279.94 L394.35,279.94 Z" fill="#fff" stroke="#000" stroke-width="0.85" stroke-linejoin="miter"/>
<path d="M418.80,272.94 L420.75,276.54 L416.85,276.54 Z" fill="#fff" stroke="#000" stroke-width="0.85" stroke-linejoin="miter"/>
<path d="M452.55,272.26 L454.50,275.86 L450.60,275.86 Z" fill="#fff" stroke="#000" stroke-width="0.85" stroke-linejoin="miter"/>
<path d="M351.30,272.20 L362.55,272.20 L373.80,272.20 L385.05,272.20 L396.30,272.20 L418.80,272.20 L452.55,271.52" fill="none" stroke="#666" stroke-width="0.9"/>
<path d="M362.55,270.22 L364.50,273.82 L360.60,273.82 Z" fill="#777" stroke="#000" stroke-width="0.85" stroke-linejoin="miter"/>
<path d="M373.80,270.22 L375.75,273.82 L371.85,273.82 Z" fill="#777" stroke="#000" stroke-width="0.85" stroke-linejoin="miter"/>
<path d="M385.05,270.22 L387.00,273.82 L383.10,273.82 Z" fill="#777" stroke="#000" stroke-width="0.85" stroke-linejoin="miter"/>
<path d="M396.30,270.22 L398.25,273.82 L394.35,273.82 Z" fill="#777" stroke="#000" stroke-width="0.85" stroke-linejoin="miter"/>
<path d="M418.80,270.22 L420.75,273.82 L416.85,273.82 Z" fill="#777" stroke="#000" stroke-width="0.85" stroke-linejoin="miter"/>
<path d="M452.55,269.54 L454.50,273.14 L450.60,273.14 Z" fill="#777" stroke="#000" stroke-width="0.85" stroke-linejoin="miter"/>
<path d="M351.30,272.20 L362.55,293.96 L373.80,311.30" fill="none" stroke="#111" stroke-width="1.0"/>
<path d="M362.55,291.98 L364.50,295.58 L360.60,295.58 Z" fill="#111" stroke="#000" stroke-width="0.85" stroke-linejoin="miter"/>
<path d="M373.80,309.32 L375.75,312.92 L371.85,312.92 Z" fill="#111" stroke="#000" stroke-width="0.85" stroke-linejoin="miter"/>
<path d="M351.30,270.22 L353.25,273.82 L349.35,273.82 Z" fill="#fff" stroke="#000" stroke-width="0.85" stroke-linejoin="miter"/>
<line x1="457.40" y1="269.40" x2="457.40" y2="275.60" stroke="#333" stroke-width="0.6" />
<text x="458.40" y="273.50" font-size="6.8" text-anchor="start" font-weight="normal" fill="#222" >ns</text>
<line x1="469.20" y1="273.20" x2="469.20" y2="312.00" stroke="#555" stroke-width="1.1" />
<line x1="478.60" y1="269.20" x2="478.60" y2="312.50" stroke="#555" stroke-width="1.1" />
<path d="M473.80,286.00 L474.78,288.35 L477.32,288.56 L475.38,290.21 L475.97,292.69 L473.80,291.37 L471.63,292.69 L472.22,290.21 L470.28,288.56 L472.82,288.35 Z" fill="#111"/>
<path d="M484.30,280.50 L485.28,282.85 L487.82,283.06 L485.88,284.71 L486.47,287.19 L484.30,285.87 L482.13,287.19 L482.72,284.71 L480.78,283.06 L483.32,282.85 Z" fill="#111"/>
<path d="M484.30,289.00 L485.28,291.35 L487.82,291.56 L485.88,293.21 L486.47,295.69 L484.30,294.37 L482.13,295.69 L482.72,293.21 L480.78,291.56 L483.32,291.35 Z" fill="#111"/>
<path d="M356.40,329.35 L358.80,334.35 L354.00,334.35 Z" fill="#555" stroke="#000" stroke-width="0.6" stroke-linejoin="miter"/>
<text x="360.80" y="334.60" font-size="7.0" text-anchor="start" font-weight="normal" fill="#222" stroke="#222" stroke-width="0.12">FcRγ<tspan font-size="4.0" dy="-2.7">-/-</tspan></text>
<path d="M386.10,329.35 L388.50,334.35 L383.70,334.35 Z" fill="#111" stroke="#000" stroke-width="0.6" stroke-linejoin="miter"/>
<text x="390.00" y="334.60" font-size="7.0" text-anchor="start" font-weight="normal" fill="#222" stroke="#222" stroke-width="0.12">FcRγ<tspan font-size="4.0" dy="-2.7">-/-</tspan><tspan dy="2.7">IIA</tspan></text>
<path d="M424.10,329.35 L426.50,334.35 L421.70,334.35 Z" fill="#fff" stroke="#000" stroke-width="0.6" stroke-linejoin="miter"/>
<text x="427.90" y="334.60" font-size="7.0" text-anchor="start" font-weight="normal" fill="#222" stroke="#222" stroke-width="0.12">FcRγ<tspan font-size="4.0" dy="-2.7">-/-</tspan><tspan dy="2.7">IIA + IV.3</tspan></text>
<line x1="352.40" y1="343.20" x2="352.40" y2="409.10" stroke="#222" stroke-width="0.9" />
<line x1="350.90" y1="409.10" x2="352.40" y2="409.10" stroke="#222" stroke-width="0.7" />
<text x="350.20" y="410.90" font-size="4.9" text-anchor="end" font-weight="normal" fill="#111" stroke="#111" stroke-width="0.15">0</text>
<line x1="350.90" y1="395.92" x2="352.40" y2="395.92" stroke="#222" stroke-width="0.7" />
<text x="350.20" y="397.72" font-size="4.9" text-anchor="end" font-weight="normal" fill="#111" stroke="#111" stroke-width="0.15">20</text>
<line x1="350.90" y1="382.74" x2="352.40" y2="382.74" stroke="#222" stroke-width="0.7" />
<text x="350.20" y="384.54" font-size="4.9" text-anchor="end" font-weight="normal" fill="#111" stroke="#111" stroke-width="0.15">40</text>
<line x1="350.90" y1="369.56" x2="352.40" y2="369.56" stroke="#222" stroke-width="0.7" />
<text x="350.20" y="371.36" font-size="4.9" text-anchor="end" font-weight="normal" fill="#111" stroke="#111" stroke-width="0.15">60</text>
<line x1="350.90" y1="356.38" x2="352.40" y2="356.38" stroke="#222" stroke-width="0.7" />
<text x="350.20" y="358.18" font-size="4.9" text-anchor="end" font-weight="normal" fill="#111" stroke="#111" stroke-width="0.15">80</text>
<line x1="350.90" y1="343.20" x2="352.40" y2="343.20" stroke="#222" stroke-width="0.7" />
<text x="350.20" y="345.00" font-size="4.9" text-anchor="end" font-weight="normal" fill="#111" stroke="#111" stroke-width="0.15">100</text>
<line x1="352.40" y1="409.10" x2="457.02" y2="409.10" stroke="#111" stroke-width="1.0" />
<line x1="352.40" y1="409.10" x2="352.40" y2="410.60" stroke="#222" stroke-width="0.6" />
<text x="352.40" y="416.20" font-size="4.9" text-anchor="middle" font-weight="normal" fill="#111" stroke="#111" stroke-width="0.15">0</text>
<line x1="374.90" y1="409.10" x2="374.90" y2="410.60" stroke="#222" stroke-width="0.6" />
<text x="374.90" y="416.20" font-size="4.9" text-anchor="middle" font-weight="normal" fill="#111" stroke="#111" stroke-width="0.15">20</text>
<line x1="397.40" y1="409.10" x2="397.40" y2="410.60" stroke="#222" stroke-width="0.6" />
<text x="397.40" y="416.20" font-size="4.9" text-anchor="middle" font-weight="normal" fill="#111" stroke="#111" stroke-width="0.15">40</text>
<line x1="419.90" y1="409.10" x2="419.90" y2="410.60" stroke="#222" stroke-width="0.6" />
<text x="419.90" y="416.20" font-size="4.9" text-anchor="middle" font-weight="normal" fill="#111" stroke="#111" stroke-width="0.15">60</text>
<line x1="442.40" y1="409.10" x2="442.40" y2="410.60" stroke="#222" stroke-width="0.6" />
<text x="442.40" y="416.20" font-size="4.9" text-anchor="middle" font-weight="normal" fill="#111" stroke="#111" stroke-width="0.15">80</text>
<text x="384.57" y="422.00" font-size="7.2" text-anchor="start" font-weight="normal" fill="#222" stroke="#222" stroke-width="0.2">time [min]</text>
<text x="0" y="0" font-size="7.0" text-anchor="middle" fill="#222" stroke="#222" stroke-width="0.2" transform="translate(341.00,377.30) rotate(-90)">survival [%]</text>
<path d="M352.40,343.20 L451.40,343.20" fill="none" stroke="#111" stroke-width="1.4"/>
<path d="M352.40,343.20 L372.20,343.20 L372.20,365.14 L373.21,365.14 L373.21,376.15 L376.59,376.15 L376.59,387.16 L379.06,387.16 L379.06,398.09 L384.46,398.09 L384.46,409.10" fill="none" stroke="#111" stroke-width="1.0"/>
<path d="M372.20,363.16 L374.15,366.76 L370.25,366.76 Z" fill="#111" stroke="#000" stroke-width="0.85" stroke-linejoin="miter"/>
<path d="M373.21,374.17 L375.16,377.77 L371.26,377.77 Z" fill="#111" stroke="#000" stroke-width="0.85" stroke-linejoin="miter"/>
<path d="M376.59,385.18 L378.54,388.78 L374.64,388.78 Z" fill="#111" stroke="#000" stroke-width="0.85" stroke-linejoin="miter"/>
<path d="M379.06,396.11 L381.01,399.71 L377.11,399.71 Z" fill="#111" stroke="#000" stroke-width="0.85" stroke-linejoin="miter"/>
<path d="M384.46,407.12 L386.41,410.72 L382.51,410.72 Z" fill="#111" stroke="#000" stroke-width="0.85" stroke-linejoin="miter"/>
<path d="M453.09,341.62 L455.04,345.22 L451.14,345.22 Z" fill="#fff" stroke="#000" stroke-width="1.0" stroke-linejoin="miter"/>
<path d="M440.20,352.20 L441.18,354.55 L443.72,354.76 L441.78,356.41 L442.37,358.89 L440.20,357.56 L438.03,358.89 L438.62,356.41 L436.68,354.76 L439.22,354.55 Z" fill="#111"/>
<path d="M447.50,352.20 L448.48,354.55 L451.02,354.76 L449.08,356.41 L449.67,358.89 L447.50,357.56 L445.33,358.89 L445.92,356.41 L443.98,354.76 L446.52,354.55 Z" fill="#111"/>
<path d="M454.80,352.20 L455.78,354.55 L458.32,354.76 L456.38,356.41 L456.97,358.89 L454.80,357.56 L452.63,358.89 L453.22,356.41 L451.28,354.76 L453.82,354.55 Z" fill="#111"/>
</svg>
</body></html>
